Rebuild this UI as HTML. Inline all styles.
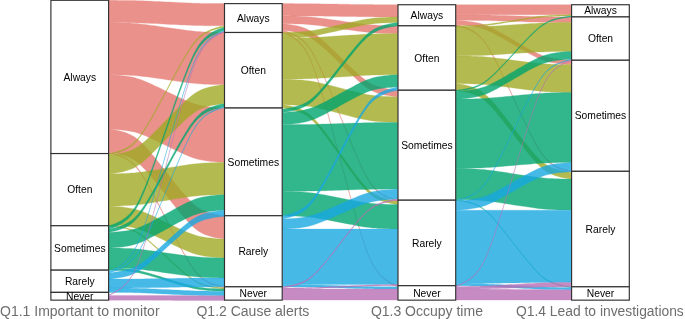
<!DOCTYPE html>
<html><head><meta charset="utf-8"><title>Alluvial</title>
<style>html,body{margin:0;padding:0;background:#fff}body{width:685px;height:319px;overflow:hidden}</style></head>
<body>
<svg width="685" height="319" viewBox="0 0 685 319" style="display:block">
<rect width="685" height="319" fill="#fff"/>
<g fill="#E5766F" stroke="#E5766F" stroke-width="0.3" opacity="1">
<path opacity="0.8" d="M108.7 0.3L108.7 0.3L109.3 0.3L110.6 0.3L112.7 0.3L115.5 0.3L118.7 0.4L122.1 0.4L125.4 0.4L128.5 0.5L131.5 0.5L134.3 0.6L137 0.7L139.7 0.7L142.4 0.8L145.4 1L148.5 1.1L151.7 1.2L155.2 1.4L158.9 1.6L162.7 1.8L166.6 2L170.4 2.1L174.2 2.3L177.9 2.5L181.4 2.7L184.7 2.8L187.8 2.9L190.7 3.1L193.5 3.2L196.2 3.3L198.9 3.3L201.7 3.4L204.6 3.4L207.7 3.5L211 3.5L214.4 3.6L217.7 3.6L220.5 3.6L222.6 3.6L223.9 3.6L224.4 3.6L224.5 3.6L224.5 25.8L224.4 25.8L223.9 25.8L222.6 25.8L220.5 25.8L217.7 25.8L214.4 25.8L211 25.7L207.7 25.7L204.6 25.7L201.7 25.6L198.9 25.5L196.2 25.5L193.5 25.4L190.7 25.3L187.8 25.2L184.7 25L181.4 24.9L177.9 24.7L174.2 24.5L170.4 24.4L166.6 24.2L162.7 24L158.9 23.8L155.2 23.6L151.7 23.5L148.5 23.3L145.4 23.2L142.4 23.1L139.7 23L137 22.9L134.3 22.8L131.5 22.7L128.5 22.7L125.4 22.6L122.1 22.6L118.7 22.6L115.5 22.5L112.7 22.5L110.6 22.5L109.3 22.5L108.7 22.5L108.7 22.5Z"/>
<path opacity="0.8" d="M108.7 22.5L108.7 22.5L109.3 22.5L110.6 22.5L112.7 22.6L115.5 22.6L118.7 22.7L122.1 22.8L125.4 22.9L128.5 23L131.5 23.2L134.3 23.4L137 23.6L139.7 23.9L142.4 24.2L145.4 24.5L148.5 24.9L151.7 25.4L155.2 25.8L158.9 26.4L162.7 26.9L166.6 27.5L170.4 28.1L174.2 28.6L177.9 29.1L181.4 29.6L184.7 30.1L187.8 30.5L190.7 30.8L193.5 31.1L196.2 31.4L198.9 31.6L201.7 31.8L204.6 32L207.7 32.1L211 32.2L214.4 32.3L217.7 32.4L220.5 32.4L222.6 32.5L223.9 32.5L224.4 32.5L224.5 32.5L224.5 84.7L224.4 84.7L223.9 84.7L222.6 84.7L220.5 84.6L217.7 84.6L214.4 84.5L211 84.4L207.7 84.3L204.6 84.2L201.7 84L198.9 83.8L196.2 83.6L193.5 83.3L190.7 83L187.8 82.7L184.7 82.3L181.4 81.8L177.9 81.3L174.2 80.8L170.4 80.3L166.6 79.7L162.7 79.1L158.9 78.6L155.2 78L151.7 77.6L148.5 77.1L145.4 76.7L142.4 76.4L139.7 76.1L137 75.8L134.3 75.6L131.5 75.4L128.5 75.2L125.4 75.1L122.1 75L118.7 74.9L115.5 74.8L112.7 74.8L110.6 74.7L109.3 74.7L108.7 74.7L108.7 74.7Z"/>
<path opacity="0.8" d="M108.7 74.7L108.7 74.7L109.3 74.7L110.6 74.8L112.7 74.9L115.5 75.1L118.7 75.3L122.1 75.7L125.4 76L128.5 76.5L131.5 77L134.3 77.6L137 78.4L139.7 79.2L142.4 80.3L145.4 81.4L148.5 82.7L151.7 84.2L155.2 85.9L158.9 87.6L162.7 89.5L166.6 91.4L170.4 93.3L174.2 95.1L177.9 96.9L181.4 98.5L184.7 100L187.8 101.3L190.7 102.5L193.5 103.5L196.2 104.3L198.9 105.1L201.7 105.7L204.6 106.2L207.7 106.7L211 107.1L214.4 107.4L217.7 107.6L220.5 107.8L222.6 107.9L223.9 108L224.4 108L224.5 108L224.5 162.4L224.4 162.4L223.9 162.4L222.6 162.3L220.5 162.2L217.7 162L214.4 161.8L211 161.5L207.7 161.1L204.6 160.6L201.7 160.1L198.9 159.5L196.2 158.8L193.5 157.9L190.7 156.9L187.8 155.7L184.7 154.4L181.4 152.9L177.9 151.3L174.2 149.5L170.4 147.7L166.6 145.8L162.7 143.9L158.9 142L155.2 140.3L151.7 138.7L148.5 137.2L145.4 135.8L142.4 134.7L139.7 133.7L137 132.8L134.3 132.1L131.5 131.4L128.5 130.9L125.4 130.5L122.1 130.1L118.7 129.8L115.5 129.5L112.7 129.3L110.6 129.2L109.3 129.1L108.7 129.1L108.7 129.1Z"/>
<path opacity="0.8" d="M108.7 129.1L108.7 129.1L109.3 129.2L110.6 129.3L112.7 129.6L115.5 130.1L118.7 130.8L122.1 131.6L125.4 132.6L128.5 133.8L131.5 135.2L134.3 136.8L137 138.7L139.7 140.9L142.4 143.6L145.4 146.6L148.5 150L151.7 153.9L155.2 158.1L158.9 162.7L162.7 167.5L166.6 172.4L170.4 177.4L174.2 182.2L177.9 186.7L181.4 191L184.7 194.8L187.8 198.3L190.7 201.3L193.5 203.9L196.2 206.2L198.9 208.1L201.7 209.7L204.6 211.1L207.7 212.3L211 213.3L214.4 214.1L217.7 214.7L220.5 215.2L222.6 215.5L223.9 215.7L224.4 215.7L224.5 215.7L224.5 239.1L224.4 239.1L223.9 239L222.6 238.8L220.5 238.5L217.7 238.1L214.4 237.4L211 236.6L207.7 235.6L204.6 234.4L201.7 233L198.9 231.4L196.2 229.5L193.5 227.3L190.7 224.6L187.8 221.6L184.7 218.1L181.4 214.3L177.9 210L174.2 205.5L170.4 200.7L166.6 195.8L162.7 190.8L158.9 186L155.2 181.5L151.7 177.2L148.5 173.4L145.4 169.9L142.4 166.9L139.7 164.2L137 162L134.3 160.1L131.5 158.5L128.5 157.1L125.4 155.9L122.1 154.9L118.7 154.1L115.5 153.4L112.7 153L110.6 152.7L109.3 152.5L108.7 152.4L108.7 152.4Z"/>
<path opacity="0.8" d="M108.7 152.4L108.7 152.5L109.3 152.5L110.6 152.8L112.7 153.3L115.5 154L118.7 155L122.1 156.3L125.4 157.8L128.5 159.7L131.5 161.8L134.3 164.3L137 167.3L139.7 170.7L142.4 174.8L145.4 179.5L148.5 184.9L151.7 190.9L155.2 197.5L158.9 204.6L162.7 212L166.6 219.6L170.4 227.3L174.2 234.7L177.9 241.8L181.4 248.4L184.7 254.4L187.8 259.7L190.7 264.4L193.5 268.5L196.2 272L198.9 275L201.7 277.5L204.6 279.6L207.7 281.4L211 283L214.4 284.2L217.7 285.3L220.5 286L222.6 286.5L223.9 286.7L224.4 286.8L224.5 286.8L224.5 287.9L224.4 287.9L223.9 287.8L222.6 287.6L220.5 287.1L217.7 286.4L214.4 285.4L211 284.1L207.7 282.5L204.6 280.7L201.7 278.6L198.9 276.1L196.2 273.1L193.5 269.6L190.7 265.5L187.8 260.8L184.7 255.5L181.4 249.5L177.9 242.9L174.2 235.8L170.4 228.4L166.6 220.7L162.7 213.1L158.9 205.7L155.2 198.6L151.7 192L148.5 186L145.4 180.7L142.4 175.9L139.7 171.9L137 168.4L134.3 165.4L131.5 162.9L128.5 160.8L125.4 159L122.1 157.4L118.7 156.1L115.5 155.1L112.7 154.4L110.6 153.9L109.3 153.7L108.7 153.6L108.7 153.6Z"/>
</g>
<g fill="#A1A924" stroke="#A1A924" stroke-width="0.3" opacity="1">
<path opacity="0.8" d="M108.7 153.6L108.7 153.5L109.3 153.5L110.6 153.2L112.7 152.8L115.5 152.1L118.7 151.1L122.1 149.9L125.4 148.4L128.5 146.7L131.5 144.7L134.3 142.3L137 139.5L139.7 136.2L142.4 132.3L145.4 127.8L148.5 122.7L151.7 117L155.2 110.8L158.9 104L162.7 96.9L166.6 89.7L170.4 82.4L174.2 75.4L177.9 68.6L181.4 62.4L184.7 56.7L187.8 51.6L190.7 47.1L193.5 43.2L196.2 39.9L198.9 37.1L201.7 34.7L204.6 32.7L207.7 31L211 29.5L214.4 28.3L217.7 27.3L220.5 26.6L222.6 26.2L223.9 25.9L224.4 25.8L224.5 25.8L224.5 27.3L224.4 27.3L223.9 27.4L222.6 27.6L220.5 28.1L217.7 28.8L214.4 29.7L211 30.9L207.7 32.4L204.6 34.1L201.7 36.2L198.9 38.6L196.2 41.4L193.5 44.7L190.7 48.6L187.8 53L184.7 58.1L181.4 63.8L177.9 70.1L174.2 76.8L170.4 83.9L166.6 91.1L162.7 98.4L158.9 105.5L155.2 112.2L151.7 118.5L148.5 124.1L145.4 129.2L142.4 133.7L139.7 137.6L137 140.9L134.3 143.7L131.5 146.1L128.5 148.1L125.4 149.9L122.1 151.3L118.7 152.5L115.5 153.5L112.7 154.2L110.6 154.7L109.3 154.9L108.7 155L108.7 155Z"/>
<path opacity="0.8" d="M108.7 155L108.7 155L109.3 154.9L110.6 154.8L112.7 154.6L115.5 154.2L118.7 153.6L122.1 153L125.4 152.2L128.5 151.2L131.5 150.1L134.3 148.8L137 147.2L139.7 145.4L142.4 143.3L145.4 140.8L148.5 138L151.7 134.9L155.2 131.4L158.9 127.7L162.7 123.8L166.6 119.8L170.4 115.8L174.2 112L177.9 108.3L181.4 104.8L184.7 101.7L187.8 98.9L190.7 96.4L193.5 94.3L196.2 92.4L198.9 90.9L201.7 89.6L204.6 88.5L207.7 87.5L211 86.7L214.4 86L217.7 85.5L220.5 85.1L222.6 84.9L223.9 84.7L224.4 84.7L224.5 84.7L224.5 103.6L224.4 103.6L223.9 103.6L222.6 103.8L220.5 104L217.7 104.4L214.4 104.9L211 105.6L207.7 106.4L204.6 107.4L201.7 108.5L198.9 109.8L196.2 111.3L193.5 113.2L190.7 115.3L187.8 117.8L184.7 120.6L181.4 123.7L177.9 127.1L174.2 130.8L170.4 134.7L166.6 138.7L162.7 142.7L158.9 146.6L155.2 150.3L151.7 153.8L148.5 156.9L145.4 159.7L142.4 162.2L139.7 164.3L137 166.1L134.3 167.7L131.5 169L128.5 170.1L125.4 171L122.1 171.9L118.7 172.5L115.5 173.1L112.7 173.4L110.6 173.7L109.3 173.8L108.7 173.9L108.7 173.9Z"/>
<path opacity="0.8" d="M108.7 173.9L108.7 173.9L109.3 173.9L110.6 173.8L112.7 173.8L115.5 173.7L118.7 173.7L122.1 173.5L125.4 173.4L128.5 173.3L131.5 173.1L134.3 172.9L137 172.6L139.7 172.3L142.4 172L145.4 171.6L148.5 171.1L151.7 170.6L155.2 170L158.9 169.4L162.7 168.8L166.6 168.2L170.4 167.5L174.2 166.9L177.9 166.3L181.4 165.7L184.7 165.2L187.8 164.7L190.7 164.3L193.5 164L196.2 163.7L198.9 163.4L201.7 163.2L204.6 163.1L207.7 162.9L211 162.8L214.4 162.7L217.7 162.6L220.5 162.5L222.6 162.5L223.9 162.4L224.4 162.4L224.5 162.4L224.5 194.6L224.4 194.6L223.9 194.7L222.6 194.7L220.5 194.7L217.7 194.8L214.4 194.9L211 195L207.7 195.1L204.6 195.3L201.7 195.4L198.9 195.7L196.2 195.9L193.5 196.2L190.7 196.5L187.8 197L184.7 197.4L181.4 197.9L177.9 198.5L174.2 199.1L170.4 199.7L166.6 200.4L162.7 201L158.9 201.6L155.2 202.2L151.7 202.8L148.5 203.3L145.4 203.8L142.4 204.2L139.7 204.5L137 204.8L134.3 205.1L131.5 205.3L128.5 205.5L125.4 205.6L122.1 205.8L118.7 205.9L115.5 205.9L112.7 206L110.6 206.1L109.3 206.1L108.7 206.1L108.7 206.1Z"/>
<path opacity="0.8" d="M108.7 206.1L108.7 206.1L109.3 206.1L110.6 206.2L112.7 206.3L115.5 206.5L118.7 206.7L122.1 207L125.4 207.4L128.5 207.9L131.5 208.4L134.3 209L137 209.7L139.7 210.6L142.4 211.6L145.4 212.7L148.5 214L151.7 215.5L155.2 217.1L158.9 218.9L162.7 220.7L166.6 222.6L170.4 224.4L174.2 226.3L177.9 228L181.4 229.6L184.7 231.1L187.8 232.4L190.7 233.6L193.5 234.6L196.2 235.4L198.9 236.2L201.7 236.8L204.6 237.3L207.7 237.7L211 238.1L214.4 238.4L217.7 238.7L220.5 238.9L222.6 239L223.9 239L224.4 239.1L224.5 239.1L224.5 257.9L224.4 257.9L223.9 257.9L222.6 257.9L220.5 257.7L217.7 257.6L214.4 257.3L211 257L207.7 256.6L204.6 256.2L201.7 255.6L198.9 255L196.2 254.3L193.5 253.5L190.7 252.4L187.8 251.3L184.7 250L181.4 248.5L177.9 246.9L174.2 245.2L170.4 243.3L166.6 241.5L162.7 239.6L158.9 237.8L155.2 236L151.7 234.4L148.5 232.9L145.4 231.6L142.4 230.5L139.7 229.5L137 228.6L134.3 227.9L131.5 227.3L128.5 226.7L125.4 226.3L122.1 225.9L118.7 225.6L115.5 225.3L112.7 225.2L110.6 225L109.3 225L108.7 225L108.7 225Z"/>
<path opacity="0.8" d="M108.7 225L108.7 225L109.3 225L110.6 225.1L112.7 225.3L115.5 225.7L118.7 226.2L122.1 226.8L125.4 227.5L128.5 228.4L131.5 229.4L134.3 230.5L137 231.9L139.7 233.5L142.4 235.5L145.4 237.7L148.5 240.2L151.7 243L155.2 246.1L158.9 249.4L162.7 252.9L166.6 256.4L170.4 260L174.2 263.5L177.9 266.8L181.4 269.9L184.7 272.7L187.8 275.2L190.7 277.4L193.5 279.4L196.2 281L198.9 282.4L201.7 283.5L204.6 284.5L207.7 285.4L211 286.1L214.4 286.7L217.7 287.2L220.5 287.5L222.6 287.8L223.9 287.9L224.4 287.9L224.5 287.9L224.5 289L224.4 289L223.9 289L222.6 288.9L220.5 288.7L217.7 288.3L214.4 287.8L211 287.2L207.7 286.5L204.6 285.7L201.7 284.7L198.9 283.5L196.2 282.1L193.5 280.5L190.7 278.5L187.8 276.3L184.7 273.8L181.4 271L177.9 267.9L174.2 264.6L170.4 261.1L166.6 257.6L162.7 254L158.9 250.5L155.2 247.2L151.7 244.1L148.5 241.3L145.4 238.8L142.4 236.6L139.7 234.7L137 233L134.3 231.6L131.5 230.5L128.5 229.5L125.4 228.6L122.1 227.9L118.7 227.3L115.5 226.8L112.7 226.5L110.6 226.2L109.3 226.1L108.7 226.1L108.7 226.1Z"/>
</g>
<g fill="#00A46F" stroke="#00A46F" stroke-width="0.3" opacity="1">
<path opacity="0.8" d="M108.7 225.7L108.7 225.7L109.3 225.6L110.6 225.2L112.7 224.5L115.5 223.4L118.7 221.9L122.1 220L125.4 217.8L128.5 215.1L131.5 211.9L134.3 208.2L137 203.9L139.7 198.7L142.4 192.7L145.4 185.7L148.5 177.8L151.7 169L155.2 159.2L158.9 148.8L162.7 137.8L166.6 126.5L170.4 115.2L174.2 104.2L177.9 93.8L181.4 84.1L184.7 75.2L187.8 67.3L190.7 60.4L193.5 54.3L196.2 49.2L198.9 44.8L201.7 41.1L204.6 38L207.7 35.3L211 33L214.4 31.1L217.7 29.6L220.5 28.5L222.6 27.8L223.9 27.4L224.4 27.3L224.5 27.3L224.5 30.6L224.4 30.6L223.9 30.8L222.6 31.1L220.5 31.8L217.7 32.9L214.4 34.4L211 36.3L207.7 38.6L204.6 41.3L201.7 44.4L198.9 48.1L196.2 52.5L193.5 57.6L190.7 63.7L187.8 70.6L184.7 78.5L181.4 87.4L177.9 97.1L174.2 107.6L170.4 118.6L166.6 129.8L162.7 141.1L158.9 152.1L155.2 162.6L151.7 172.3L148.5 181.1L145.4 189L142.4 196L139.7 202L137 207.2L134.3 211.5L131.5 215.2L128.5 218.4L125.4 221.1L122.1 223.4L118.7 225.3L115.5 226.8L112.7 227.9L110.6 228.6L109.3 228.9L108.7 229.1L108.7 229.1Z"/>
<path opacity="0.8" d="M108.7 229.1L108.7 229.1L109.3 229L110.6 228.7L112.7 228.3L115.5 227.6L118.7 226.7L122.1 225.5L125.4 224L128.5 222.3L131.5 220.3L134.3 218L137 215.2L139.7 212L142.4 208.2L145.4 203.8L148.5 198.8L151.7 193.2L155.2 187L158.9 180.4L162.7 173.5L166.6 166.3L170.4 159.2L174.2 152.2L177.9 145.6L181.4 139.5L184.7 133.9L187.8 128.9L190.7 124.5L193.5 120.7L196.2 117.4L198.9 114.7L201.7 112.3L204.6 110.3L207.7 108.6L211 107.2L214.4 106L217.7 105L220.5 104.3L222.6 103.9L223.9 103.7L224.4 103.6L224.5 103.6L224.5 106.9L224.4 106.9L223.9 107L222.6 107.2L220.5 107.7L217.7 108.4L214.4 109.3L211 110.5L207.7 112L204.6 113.7L201.7 115.7L198.9 118L196.2 120.7L193.5 124L190.7 127.8L187.8 132.2L184.7 137.2L181.4 142.8L177.9 149L174.2 155.6L170.4 162.5L166.6 169.7L162.7 176.8L158.9 183.7L155.2 190.4L151.7 196.5L148.5 202.1L145.4 207.1L142.4 211.5L139.7 215.3L137 218.6L134.3 221.3L131.5 223.7L128.5 225.7L125.4 227.4L122.1 228.8L118.7 230L115.5 230.9L112.7 231.6L110.6 232.1L109.3 232.3L108.7 232.4L108.7 232.4Z"/>
<path opacity="0.8" d="M108.7 232.4L108.7 232.4L109.3 232.4L110.6 232.3L112.7 232.2L115.5 232L118.7 231.7L122.1 231.3L125.4 230.9L128.5 230.4L131.5 229.8L134.3 229.1L137 228.2L139.7 227.3L142.4 226.1L145.4 224.8L148.5 223.3L151.7 221.6L155.2 219.8L158.9 217.8L162.7 215.7L166.6 213.5L170.4 211.4L174.2 209.3L177.9 207.3L181.4 205.4L184.7 203.8L187.8 202.3L190.7 200.9L193.5 199.8L196.2 198.8L198.9 198L201.7 197.3L204.6 196.7L207.7 196.2L211 195.7L214.4 195.4L217.7 195.1L220.5 194.9L222.6 194.7L223.9 194.7L224.4 194.6L224.5 194.6L224.5 210.2L224.4 210.2L223.9 210.2L222.6 210.3L220.5 210.4L217.7 210.6L214.4 210.9L211 211.3L207.7 211.7L204.6 212.2L201.7 212.8L198.9 213.5L196.2 214.4L193.5 215.3L190.7 216.5L187.8 217.8L184.7 219.3L181.4 221L177.9 222.8L174.2 224.8L170.4 226.9L166.6 229.1L162.7 231.2L158.9 233.3L155.2 235.3L151.7 237.1L148.5 238.8L145.4 240.3L142.4 241.7L139.7 242.8L137 243.8L134.3 244.6L131.5 245.3L128.5 245.9L125.4 246.4L122.1 246.9L118.7 247.2L115.5 247.5L112.7 247.7L110.6 247.9L109.3 247.9L108.7 247.9L108.7 248Z"/>
<path opacity="0.8" d="M108.7 248L108.7 248L109.3 248L110.6 248L112.7 248L115.5 248.1L118.7 248.1L122.1 248.2L125.4 248.4L128.5 248.5L131.5 248.6L134.3 248.8L137 249.1L139.7 249.3L142.4 249.6L145.4 250L148.5 250.4L151.7 250.8L155.2 251.3L158.9 251.8L162.7 252.4L166.6 252.9L170.4 253.5L174.2 254.1L177.9 254.6L181.4 255.1L184.7 255.5L187.8 255.9L190.7 256.3L193.5 256.6L196.2 256.8L198.9 257.1L201.7 257.3L204.6 257.4L207.7 257.5L211 257.7L214.4 257.8L217.7 257.8L220.5 257.9L222.6 257.9L223.9 257.9L224.4 257.9L224.5 257.9L224.5 277.9L224.4 277.9L223.9 277.9L222.6 277.9L220.5 277.9L217.7 277.8L214.4 277.7L211 277.7L207.7 277.5L204.6 277.4L201.7 277.2L198.9 277.1L196.2 276.8L193.5 276.6L190.7 276.3L187.8 275.9L184.7 275.5L181.4 275.1L177.9 274.6L174.2 274.1L170.4 273.5L166.6 272.9L162.7 272.4L158.9 271.8L155.2 271.3L151.7 270.8L148.5 270.4L145.4 270L142.4 269.6L139.7 269.3L137 269L134.3 268.8L131.5 268.6L128.5 268.5L125.4 268.3L122.1 268.2L118.7 268.1L115.5 268.1L112.7 268L110.6 268L109.3 268L108.7 267.9L108.7 267.9Z"/>
<path opacity="0.8" d="M108.7 267.9L108.7 267.9L109.3 268L110.6 268L112.7 268.1L115.5 268.2L118.7 268.3L122.1 268.5L125.4 268.8L128.5 269.1L131.5 269.4L134.3 269.8L137 270.3L139.7 270.8L142.4 271.5L145.4 272.2L148.5 273L151.7 274L155.2 275L158.9 276.1L162.7 277.3L166.6 278.5L170.4 279.7L174.2 280.9L177.9 282L181.4 283L184.7 283.9L187.8 284.8L190.7 285.5L193.5 286.2L196.2 286.7L198.9 287.2L201.7 287.6L204.6 287.9L207.7 288.2L211 288.4L214.4 288.6L217.7 288.8L220.5 288.9L222.6 289L223.9 289L224.4 289L224.5 289L224.5 291.3L224.4 291.3L223.9 291.2L222.6 291.2L220.5 291.1L217.7 291L214.4 290.9L211 290.7L207.7 290.4L204.6 290.1L201.7 289.8L198.9 289.4L196.2 288.9L193.5 288.4L190.7 287.7L187.8 287L184.7 286.2L181.4 285.2L177.9 284.2L174.2 283.1L170.4 281.9L166.6 280.7L162.7 279.5L158.9 278.3L155.2 277.2L151.7 276.2L148.5 275.3L145.4 274.4L142.4 273.7L139.7 273L137 272.5L134.3 272L131.5 271.6L128.5 271.3L125.4 271L122.1 270.8L118.7 270.6L115.5 270.4L112.7 270.3L110.6 270.2L109.3 270.2L108.7 270.2L108.7 270.2Z"/>
</g>
<g fill="#18A8E2" stroke="#18A8E2" stroke-width="0.3" opacity="1">
<path opacity="0.8" d="M108.7 271.3L108.7 271.3L109.3 271.1L110.6 270.6L112.7 269.8L115.5 268.5L118.7 266.7L122.1 264.4L125.4 261.6L128.5 258.3L131.5 254.5L134.3 250L137 244.7L139.7 238.5L142.4 231.2L145.4 222.7L148.5 213.1L151.7 202.4L155.2 190.6L158.9 177.9L162.7 164.6L166.6 150.9L170.4 137.3L174.2 123.9L177.9 111.3L181.4 99.5L184.7 88.7L187.8 79.2L190.7 70.7L193.5 63.4L196.2 57.1L198.9 51.9L201.7 47.4L204.6 43.6L207.7 40.3L211 37.5L214.4 35.2L217.7 33.4L220.5 32.1L222.6 31.2L223.9 30.8L224.4 30.6L224.5 30.6L224.5 31.4L224.4 31.4L223.9 31.6L222.6 32L220.5 32.9L217.7 34.2L214.4 36L211 38.3L207.7 41.1L204.6 44.3L201.7 48.2L198.9 52.6L196.2 57.9L193.5 64.2L190.7 71.5L187.8 79.9L184.7 89.5L181.4 100.2L177.9 112L174.2 124.7L170.4 138L166.6 151.7L162.7 165.4L158.9 178.7L155.2 191.4L151.7 203.2L148.5 213.9L145.4 223.5L142.4 231.9L139.7 239.3L137 245.5L134.3 250.8L131.5 255.3L128.5 259.1L125.4 262.4L122.1 265.1L118.7 267.4L115.5 269.3L112.7 270.6L110.6 271.4L109.3 271.9L108.7 272L108.7 272.1Z"/>
<path opacity="0.8" d="M108.7 272.1L108.7 272L109.3 271.9L110.6 271.6L112.7 271L115.5 270.1L118.7 268.9L122.1 267.3L125.4 265.4L128.5 263.2L131.5 260.5L134.3 257.5L137 253.8L139.7 249.6L142.4 244.5L145.4 238.7L148.5 232.2L151.7 224.8L155.2 216.7L158.9 208L162.7 198.9L166.6 189.5L170.4 180.1L174.2 170.9L177.9 162.2L181.4 154.2L184.7 146.8L187.8 140.2L190.7 134.4L193.5 129.4L196.2 125.1L198.9 121.5L201.7 118.4L204.6 115.8L207.7 113.6L211 111.6L214.4 110.1L217.7 108.8L220.5 107.9L222.6 107.3L223.9 107L224.4 106.9L224.5 106.9L224.5 107.7L224.4 107.7L223.9 107.8L222.6 108.1L220.5 108.7L217.7 109.6L214.4 110.8L211 112.4L207.7 114.3L204.6 116.6L201.7 119.2L198.9 122.3L196.2 125.9L193.5 130.2L190.7 135.2L187.8 141L184.7 147.6L181.4 154.9L177.9 163L174.2 171.7L170.4 180.9L166.6 190.3L162.7 199.6L158.9 208.8L155.2 217.5L151.7 225.6L148.5 232.9L145.4 239.5L142.4 245.3L139.7 250.3L137 254.6L134.3 258.2L131.5 261.3L128.5 263.9L125.4 266.2L122.1 268.1L118.7 269.7L115.5 270.9L112.7 271.8L110.6 272.4L109.3 272.7L108.7 272.8L108.7 272.8Z"/>
<path opacity="0.8" d="M108.7 272.8L108.7 272.8L109.3 272.8L110.6 272.7L112.7 272.4L115.5 272.1L118.7 271.6L122.1 271L125.4 270.3L128.5 269.5L131.5 268.5L134.3 267.3L137 265.9L139.7 264.3L142.4 262.4L145.4 260.2L148.5 257.7L151.7 254.9L155.2 251.8L158.9 248.5L162.7 245.1L166.6 241.5L170.4 238L174.2 234.5L177.9 231.2L181.4 228.1L184.7 225.3L187.8 222.8L190.7 220.6L193.5 218.7L196.2 217.1L198.9 215.7L201.7 214.6L204.6 213.6L207.7 212.7L211 212L214.4 211.4L217.7 210.9L220.5 210.6L222.6 210.4L223.9 210.2L224.4 210.2L224.5 210.2L224.5 216.4L224.4 216.4L223.9 216.5L222.6 216.6L220.5 216.8L217.7 217.1L214.4 217.6L211 218.2L207.7 218.9L204.6 219.8L201.7 220.8L198.9 221.9L196.2 223.3L193.5 224.9L190.7 226.9L187.8 229L184.7 231.5L181.4 234.3L177.9 237.4L174.2 240.7L170.4 244.2L166.6 247.7L162.7 251.3L158.9 254.8L155.2 258.1L151.7 261.1L148.5 263.9L145.4 266.4L142.4 268.6L139.7 270.5L137 272.1L134.3 273.5L131.5 274.7L128.5 275.7L125.4 276.5L122.1 277.2L118.7 277.8L115.5 278.3L112.7 278.7L110.6 278.9L109.3 279L108.7 279L108.7 279Z"/>
<path opacity="0.8" d="M108.7 279L108.7 279L109.3 279L110.6 279L112.7 279L115.5 279L118.7 279L122.1 279L125.4 279L128.5 279L131.5 279L134.3 279L137 278.9L139.7 278.9L142.4 278.9L145.4 278.8L148.5 278.8L151.7 278.7L155.2 278.7L158.9 278.6L162.7 278.6L166.6 278.5L170.4 278.4L174.2 278.4L177.9 278.3L181.4 278.3L184.7 278.2L187.8 278.2L190.7 278.1L193.5 278.1L196.2 278.1L198.9 278L201.7 278L204.6 278L207.7 278L211 278L214.4 278L217.7 278L220.5 277.9L222.6 277.9L223.9 277.9L224.4 277.9L224.5 277.9L224.5 286.8L224.4 286.8L223.9 286.8L222.6 286.8L220.5 286.8L217.7 286.8L214.4 286.8L211 286.9L207.7 286.9L204.6 286.9L201.7 286.9L198.9 286.9L196.2 286.9L193.5 287L190.7 287L187.8 287L184.7 287.1L181.4 287.1L177.9 287.2L174.2 287.3L170.4 287.3L166.6 287.4L162.7 287.4L158.9 287.5L155.2 287.6L151.7 287.6L148.5 287.7L145.4 287.7L142.4 287.7L139.7 287.8L137 287.8L134.3 287.8L131.5 287.9L128.5 287.9L125.4 287.9L122.1 287.9L118.7 287.9L115.5 287.9L112.7 287.9L110.6 287.9L109.3 287.9L108.7 287.9L108.7 287.9Z"/>
<path opacity="0.8" d="M108.7 287.9L108.7 287.9L109.3 287.9L110.6 287.9L112.7 288L115.5 288L118.7 288L122.1 288L125.4 288.1L128.5 288.1L131.5 288.2L134.3 288.2L137 288.3L139.7 288.4L142.4 288.5L145.4 288.6L148.5 288.7L151.7 288.9L155.2 289L158.9 289.2L162.7 289.4L166.6 289.6L170.4 289.8L174.2 290L177.9 290.1L181.4 290.3L184.7 290.5L187.8 290.6L190.7 290.7L193.5 290.8L196.2 290.9L198.9 291L201.7 291L204.6 291.1L207.7 291.1L211 291.2L214.4 291.2L217.7 291.2L220.5 291.2L222.6 291.3L223.9 291.3L224.4 291.3L224.5 291.3L224.5 295.7L224.4 295.7L223.9 295.7L222.6 295.7L220.5 295.7L217.7 295.7L214.4 295.6L211 295.6L207.7 295.6L204.6 295.5L201.7 295.5L198.9 295.4L196.2 295.3L193.5 295.3L190.7 295.2L187.8 295L184.7 294.9L181.4 294.8L177.9 294.6L174.2 294.4L170.4 294.2L166.6 294L162.7 293.9L158.9 293.7L155.2 293.5L151.7 293.3L148.5 293.2L145.4 293L142.4 292.9L139.7 292.8L137 292.7L134.3 292.7L131.5 292.6L128.5 292.6L125.4 292.5L122.1 292.5L118.7 292.4L115.5 292.4L112.7 292.4L110.6 292.4L109.3 292.4L108.7 292.4L108.7 292.4Z"/>
</g>
<g fill="#B86FB5" stroke="#B86FB5" stroke-width="0.3" opacity="1">
<path opacity="0.8" d="M108.7 294.6L108.7 294.6L109.3 294.4L110.6 293.9L112.7 293L115.5 291.5L118.7 289.6L122.1 287L125.4 284L128.5 280.4L131.5 276.3L134.3 271.4L137 265.6L139.7 258.7L142.4 250.7L145.4 241.5L148.5 231L151.7 219.3L155.2 206.4L158.9 192.5L162.7 177.9L166.6 163L170.4 148L174.2 133.5L177.9 119.6L181.4 106.7L184.7 95L187.8 84.5L190.7 75.3L193.5 67.2L196.2 60.4L198.9 54.6L201.7 49.7L204.6 45.5L207.7 42L211 38.9L214.4 36.4L217.7 34.4L220.5 33L222.6 32.1L223.9 31.6L224.4 31.4L224.5 31.4L224.5 32.2L224.4 32.2L223.9 32.4L222.6 32.8L220.5 33.8L217.7 35.2L214.4 37.2L211 39.7L207.7 42.8L204.6 46.3L201.7 50.5L198.9 55.4L196.2 61.2L193.5 68L190.7 76L187.8 85.3L184.7 95.7L181.4 107.5L177.9 120.4L174.2 134.2L170.4 148.8L166.6 163.8L162.7 178.7L158.9 193.3L155.2 207.2L151.7 220.1L148.5 231.8L145.4 242.3L142.4 251.5L139.7 259.5L137 266.3L134.3 272.1L131.5 277L128.5 281.2L125.4 284.8L122.1 287.8L118.7 290.3L115.5 292.3L112.7 293.8L110.6 294.7L109.3 295.2L108.7 295.3L108.7 295.4Z"/>
<path opacity="0.8" d="M108.7 295.4L108.7 295.4L109.3 295.4L110.6 295.4L112.7 295.4L115.5 295.4L118.7 295.4L122.1 295.4L125.4 295.4L128.5 295.4L131.5 295.4L134.3 295.4L137 295.4L139.7 295.4L142.4 295.4L145.4 295.4L148.5 295.5L151.7 295.5L155.2 295.5L158.9 295.5L162.7 295.5L166.6 295.5L170.4 295.6L174.2 295.6L177.9 295.6L181.4 295.6L184.7 295.6L187.8 295.6L190.7 295.7L193.5 295.7L196.2 295.7L198.9 295.7L201.7 295.7L204.6 295.7L207.7 295.7L211 295.7L214.4 295.7L217.7 295.7L220.5 295.7L222.6 295.7L223.9 295.7L224.4 295.7L224.5 295.7L224.5 300.5L224.4 300.5L223.9 300.5L222.6 300.5L220.5 300.5L217.7 300.5L214.4 300.5L211 300.5L207.7 300.5L204.6 300.5L201.7 300.5L198.9 300.5L196.2 300.4L193.5 300.4L190.7 300.4L187.8 300.4L184.7 300.4L181.4 300.4L177.9 300.4L174.2 300.4L170.4 300.3L166.6 300.3L162.7 300.3L158.9 300.3L155.2 300.3L151.7 300.2L148.5 300.2L145.4 300.2L142.4 300.2L139.7 300.2L137 300.2L134.3 300.2L131.5 300.2L128.5 300.2L125.4 300.2L122.1 300.2L118.7 300.2L115.5 300.2L112.7 300.2L110.6 300.2L109.3 300.2L108.7 300.2L108.7 300.1Z"/>
</g>
<g fill="#E5766F" stroke="#E5766F" stroke-width="0.3" opacity="1">
<path opacity="0.8" d="M282.2 3.6L282.3 3.6L282.8 3.6L284.1 3.6L286.2 3.6L289 3.6L292.3 3.6L295.7 3.7L299 3.7L302.1 3.7L305 3.7L307.8 3.7L310.5 3.7L313.2 3.8L316 3.8L318.9 3.8L322 3.9L325.3 3.9L328.8 4L332.5 4.1L336.3 4.1L340.1 4.2L344 4.2L347.8 4.3L351.5 4.4L355 4.4L358.2 4.5L361.3 4.5L364.3 4.5L367 4.6L369.7 4.6L372.4 4.6L375.2 4.7L378.2 4.7L381.3 4.7L384.6 4.7L388 4.7L391.2 4.7L394 4.7L396.1 4.7L397.4 4.7L398 4.7L398 4.7L398 16.9L398 16.9L397.4 16.9L396.1 16.9L394 16.9L391.2 16.9L388 16.9L384.6 16.9L381.3 16.9L378.2 16.9L375.2 16.9L372.4 16.8L369.7 16.8L367 16.8L364.3 16.8L361.3 16.7L358.2 16.7L355 16.6L351.5 16.6L347.8 16.5L344 16.5L340.1 16.4L336.3 16.3L332.5 16.3L328.8 16.2L325.3 16.2L322 16.1L318.9 16.1L316 16L313.2 16L310.5 16L307.8 15.9L305 15.9L302.1 15.9L299 15.9L295.7 15.9L292.3 15.9L289 15.8L286.2 15.8L284.1 15.8L282.8 15.8L282.3 15.8L282.2 15.8Z"/>
<path opacity="0.8" d="M282.2 15.8L282.3 15.8L282.8 15.8L284.1 15.9L286.2 15.9L289 16L292.3 16L295.7 16.1L299 16.2L302.1 16.4L305 16.5L307.8 16.7L310.5 16.9L313.2 17.2L316 17.5L318.9 17.9L322 18.3L325.3 18.7L328.8 19.2L332.5 19.7L336.3 20.3L340.1 20.8L344 21.4L347.8 22L351.5 22.5L355 23L358.2 23.4L361.3 23.8L364.3 24.2L367 24.5L369.7 24.7L372.4 24.9L375.2 25.1L378.2 25.3L381.3 25.4L384.6 25.5L388 25.6L391.2 25.7L394 25.8L396.1 25.8L397.4 25.8L398 25.8L398 25.8L398 33.6L398 33.6L397.4 33.6L396.1 33.6L394 33.5L391.2 33.5L388 33.4L384.6 33.3L381.3 33.2L378.2 33.1L375.2 32.9L372.4 32.7L369.7 32.5L367 32.2L364.3 31.9L361.3 31.6L358.2 31.2L355 30.7L351.5 30.3L347.8 29.7L344 29.2L340.1 28.6L336.3 28L332.5 27.5L328.8 27L325.3 26.5L322 26L318.9 25.6L316 25.3L313.2 25L310.5 24.7L307.8 24.5L305 24.3L302.1 24.1L299 24L295.7 23.9L292.3 23.8L289 23.7L286.2 23.7L284.1 23.6L282.8 23.6L282.3 23.6L282.2 23.6Z"/>
<path opacity="0.8" d="M282.2 23.6L282.3 23.6L282.8 23.7L284.1 23.8L286.2 24L289 24.4L292.3 24.9L295.7 25.5L299 26.3L302.1 27.2L305 28.3L307.8 29.5L310.5 31L313.2 32.7L316 34.7L318.9 37.1L322 39.7L325.3 42.7L328.8 45.9L332.5 49.5L336.3 53.1L340.1 56.9L344 60.7L347.8 64.4L351.5 67.9L355 71.2L358.2 74.2L361.3 76.8L364.3 79.1L367 81.2L369.7 82.9L372.4 84.4L375.2 85.6L378.2 86.7L381.3 87.6L384.6 88.3L388 89L391.2 89.5L394 89.8L396.1 90.1L397.4 90.2L398 90.2L398 90.2L398 96.9L398 96.9L397.4 96.9L396.1 96.7L394 96.5L391.2 96.1L388 95.6L384.6 95L381.3 94.2L378.2 93.3L375.2 92.3L372.4 91L369.7 89.6L367 87.8L364.3 85.8L361.3 83.5L358.2 80.8L355 77.8L351.5 74.6L347.8 71.1L344 67.4L340.1 63.6L336.3 59.8L332.5 56.1L328.8 52.6L325.3 49.3L322 46.4L318.9 43.7L316 41.4L313.2 39.4L310.5 37.6L307.8 36.2L305 34.9L302.1 33.9L299 33L295.7 32.2L292.3 31.6L289 31L286.2 30.7L284.1 30.4L282.8 30.3L282.3 30.3L282.2 30.3Z"/>
<path opacity="0.8" d="M282.2 30.3L282.3 30.3L282.8 30.4L284.1 30.7L286.2 31.3L289 32.2L292.3 33.5L295.7 35.2L299 37.1L302.1 39.4L305 42.1L307.8 45.3L310.5 49L313.2 53.4L316 58.6L318.9 64.6L322 71.3L325.3 78.9L328.8 87.2L332.5 96.2L336.3 105.6L340.1 115.2L344 124.9L347.8 134.3L351.5 143.3L355 151.6L358.2 159.2L361.3 165.9L364.3 171.9L367 177L369.7 181.5L372.4 185.2L375.2 188.4L378.2 191.1L381.3 193.4L384.6 195.3L388 196.9L391.2 198.2L394 199.2L396.1 199.8L397.4 200.1L398 200.2L398 200.2L398 201.3L398 201.3L397.4 201.2L396.1 200.9L394 200.3L391.2 199.3L388 198.1L384.6 196.4L381.3 194.5L378.2 192.2L375.2 189.5L372.4 186.3L369.7 182.6L367 178.2L364.3 173L361.3 167L358.2 160.3L355 152.7L351.5 144.4L347.8 135.4L344 126L340.1 116.3L336.3 106.7L332.5 97.3L328.8 88.3L325.3 80L322 72.4L318.9 65.7L316 59.7L313.2 54.5L310.5 50.1L307.8 46.4L305 43.2L302.1 40.5L299 38.2L295.7 36.3L292.3 34.6L289 33.4L286.2 32.4L284.1 31.8L282.8 31.5L282.3 31.4L282.2 31.4Z"/>
<path opacity="0.8" d="M282.2 31.4L282.3 31.4L282.8 31.6L284.1 32L286.2 32.9L289 34.3L292.3 36.3L295.7 38.7L299 41.6L302.1 45.1L305 49.1L307.8 53.8L310.5 59.4L313.2 66L316 73.8L318.9 82.7L322 92.8L325.3 104.2L328.8 116.6L332.5 130L336.3 144.1L340.1 158.5L344 173L347.8 187.1L351.5 200.5L355 212.9L358.2 224.3L361.3 234.4L364.3 243.3L367 251.1L369.7 257.7L372.4 263.3L375.2 268L378.2 272L381.3 275.5L384.6 278.4L388 280.8L391.2 282.8L394 284.2L396.1 285L397.4 285.5L398 285.7L398 285.7L398 286.8L398 286.8L397.4 286.6L396.1 286.2L394 285.3L391.2 283.9L388 281.9L384.6 279.5L381.3 276.6L378.2 273.1L375.2 269.1L372.4 264.4L369.7 258.8L367 252.2L364.3 244.4L361.3 235.5L358.2 225.4L355 214.1L351.5 201.6L347.8 188.2L344 174.1L340.1 159.7L336.3 145.2L332.5 131.1L328.8 117.7L325.3 105.3L322 93.9L318.9 83.8L316 74.9L313.2 67.1L310.5 60.5L307.8 55L305 50.2L302.1 46.2L299 42.7L295.7 39.8L292.3 37.4L289 35.4L286.2 34.1L284.1 33.2L282.8 32.7L282.3 32.5L282.2 32.5Z"/>
</g>
<g fill="#A1A924" stroke="#A1A924" stroke-width="0.3" opacity="1">
<path opacity="0.8" d="M282.2 32.5L282.3 32.5L282.8 32.5L284.1 32.5L286.2 32.4L289 32.3L292.3 32.2L295.7 32L299 31.9L302.1 31.7L305 31.4L307.8 31.1L310.5 30.8L313.2 30.4L316 29.9L318.9 29.4L322 28.7L325.3 28L328.8 27.3L332.5 26.5L336.3 25.6L340.1 24.7L344 23.8L347.8 23L351.5 22.2L355 21.4L358.2 20.7L361.3 20.1L364.3 19.5L367 19.1L369.7 18.7L372.4 18.3L375.2 18L378.2 17.8L381.3 17.6L384.6 17.4L388 17.2L391.2 17.1L394 17L396.1 17L397.4 17L398 16.9L398 16.9L398 22.5L398 22.5L397.4 22.5L396.1 22.5L394 22.6L391.2 22.7L388 22.8L384.6 22.9L381.3 23.1L378.2 23.3L375.2 23.6L372.4 23.9L369.7 24.2L367 24.6L364.3 25.1L361.3 25.6L358.2 26.3L355 26.9L351.5 27.7L347.8 28.5L344 29.4L340.1 30.3L336.3 31.2L332.5 32L328.8 32.8L325.3 33.6L322 34.3L318.9 34.9L316 35.5L313.2 35.9L310.5 36.3L307.8 36.7L305 37L302.1 37.2L299 37.4L295.7 37.6L292.3 37.8L289 37.9L286.2 38L284.1 38L282.8 38L282.3 38L282.2 38Z"/>
<path opacity="0.8" d="M282.2 38L282.3 38L282.8 38L284.1 38L286.2 38L289 38L292.3 38L295.7 37.9L299 37.9L302.1 37.8L305 37.7L307.8 37.7L310.5 37.6L313.2 37.4L316 37.3L318.9 37.2L322 37L325.3 36.8L328.8 36.6L332.5 36.3L336.3 36.1L340.1 35.8L344 35.6L347.8 35.3L351.5 35.1L355 34.9L358.2 34.7L361.3 34.5L364.3 34.3L367 34.2L369.7 34.1L372.4 34L375.2 33.9L378.2 33.8L381.3 33.8L384.6 33.7L388 33.7L391.2 33.7L394 33.6L396.1 33.6L397.4 33.6L398 33.6L398 33.6L398 74.7L398 74.7L397.4 74.7L396.1 74.7L394 74.7L391.2 74.7L388 74.8L384.6 74.8L381.3 74.9L378.2 74.9L375.2 75L372.4 75.1L369.7 75.2L367 75.3L364.3 75.4L361.3 75.6L358.2 75.8L355 76L351.5 76.2L347.8 76.4L344 76.7L340.1 76.9L336.3 77.2L332.5 77.4L328.8 77.7L325.3 77.9L322 78.1L318.9 78.2L316 78.4L313.2 78.5L310.5 78.7L307.8 78.7L305 78.8L302.1 78.9L299 79L295.7 79L292.3 79.1L289 79.1L286.2 79.1L284.1 79.1L282.8 79.1L282.3 79.1L282.2 79.1Z"/>
<path opacity="0.8" d="M282.2 79.1L282.3 79.1L282.8 79.2L284.1 79.2L286.2 79.2L289 79.3L292.3 79.5L295.7 79.7L299 79.9L302.1 80.1L305 80.4L307.8 80.7L310.5 81.1L313.2 81.6L316 82.1L318.9 82.7L322 83.4L325.3 84.2L328.8 85.1L332.5 86L336.3 87L340.1 88L344 89L347.8 90L351.5 91L355 91.8L358.2 92.6L361.3 93.3L364.3 93.9L367 94.5L369.7 95L372.4 95.3L375.2 95.7L378.2 96L381.3 96.2L384.6 96.4L388 96.6L391.2 96.7L394 96.8L396.1 96.9L397.4 96.9L398 96.9L398 96.9L398 122.5L398 122.5L397.4 122.4L396.1 122.4L394 122.3L391.2 122.2L388 122.1L384.6 121.9L381.3 121.7L378.2 121.5L375.2 121.2L372.4 120.9L369.7 120.5L367 120L364.3 119.5L361.3 118.9L358.2 118.2L355 117.4L351.5 116.5L347.8 115.6L344 114.6L340.1 113.6L336.3 112.6L332.5 111.6L328.8 110.6L325.3 109.8L322 109L318.9 108.3L316 107.6L313.2 107.1L310.5 106.6L307.8 106.3L305 105.9L302.1 105.6L299 105.4L295.7 105.2L292.3 105L289 104.9L286.2 104.8L284.1 104.7L282.8 104.7L282.3 104.7L282.2 104.7Z"/>
<path opacity="0.8" d="M282.2 104.7L282.3 104.7L282.8 104.8L284.1 104.9L286.2 105.3L289 105.8L292.3 106.5L295.7 107.5L299 108.6L302.1 109.9L305 111.4L307.8 113.2L310.5 115.3L313.2 117.8L316 120.8L318.9 124.2L322 128L325.3 132.3L328.8 137.1L332.5 142.2L336.3 147.5L340.1 153L344 158.5L347.8 163.8L351.5 168.9L355 173.7L358.2 178L361.3 181.8L364.3 185.2L367 188.1L369.7 190.7L372.4 192.8L375.2 194.6L378.2 196.1L381.3 197.4L384.6 198.5L388 199.5L391.2 200.2L394 200.7L396.1 201.1L397.4 201.2L398 201.3L398 201.3L398 204.6L398 204.6L397.4 204.6L396.1 204.4L394 204L391.2 203.5L388 202.8L384.6 201.9L381.3 200.8L378.2 199.4L375.2 197.9L372.4 196.1L369.7 194L367 191.5L364.3 188.5L361.3 185.1L358.2 181.3L355 177L351.5 172.3L347.8 167.2L344 161.8L340.1 156.3L336.3 150.8L332.5 145.5L328.8 140.4L325.3 135.7L322 131.4L318.9 127.5L316 124.1L313.2 121.2L310.5 118.7L307.8 116.5L305 114.7L302.1 113.2L299 111.9L295.7 110.8L292.3 109.9L289 109.1L286.2 108.6L284.1 108.3L282.8 108.1L282.3 108L282.2 108Z"/>
</g>
<g fill="#00A46F" stroke="#00A46F" stroke-width="0.3" opacity="1">
<path opacity="0.8" d="M282.2 109.1L282.3 109.1L282.8 109.1L284.1 108.9L286.2 108.6L289 108.1L292.3 107.5L295.7 106.6L299 105.6L302.1 104.5L305 103.1L307.8 101.5L310.5 99.6L313.2 97.3L316 94.7L318.9 91.7L322 88.2L325.3 84.3L328.8 80.1L332.5 75.5L336.3 70.7L340.1 65.8L344 60.9L347.8 56.1L351.5 51.5L355 47.3L358.2 43.4L361.3 40L364.3 36.9L367 34.3L369.7 32.1L372.4 30.2L375.2 28.5L378.2 27.2L381.3 26L384.6 25L388 24.2L391.2 23.5L394 23L396.1 22.7L397.4 22.6L398 22.5L398 22.5L398 25.8L398 25.8L397.4 25.9L396.1 26.1L394 26.4L391.2 26.8L388 27.5L384.6 28.3L381.3 29.3L378.2 30.5L375.2 31.9L372.4 33.5L369.7 35.4L367 37.6L364.3 40.3L361.3 43.3L358.2 46.8L355 50.6L351.5 54.9L347.8 59.4L344 64.2L340.1 69.1L336.3 74.1L332.5 78.9L328.8 83.4L325.3 87.7L322 91.5L318.9 95L316 98L313.2 100.7L310.5 102.9L307.8 104.8L305 106.4L302.1 107.8L299 109L295.7 110L292.3 110.8L289 111.5L286.2 111.9L284.1 112.2L282.8 112.4L282.3 112.5L282.2 112.5Z"/>
<path opacity="0.8" d="M282.2 112.5L282.3 112.5L282.8 112.4L284.1 112.4L286.2 112.2L289 112L292.3 111.7L295.7 111.4L299 110.9L302.1 110.4L305 109.8L307.8 109.1L310.5 108.3L313.2 107.3L316 106.2L318.9 104.8L322 103.3L325.3 101.7L328.8 99.8L332.5 97.8L336.3 95.7L340.1 93.6L344 91.4L347.8 89.3L351.5 87.4L355 85.5L358.2 83.8L361.3 82.3L364.3 81L367 79.8L369.7 78.9L372.4 78L375.2 77.3L378.2 76.7L381.3 76.2L384.6 75.8L388 75.4L391.2 75.1L394 74.9L396.1 74.8L397.4 74.7L398 74.7L398 74.7L398 86.9L398 86.9L397.4 86.9L396.1 87L394 87.1L391.2 87.4L388 87.6L384.6 88L381.3 88.4L378.2 88.9L375.2 89.5L372.4 90.2L369.7 91.1L367 92.1L364.3 93.2L361.3 94.5L358.2 96L355 97.7L351.5 99.6L347.8 101.6L344 103.6L340.1 105.8L336.3 107.9L332.5 110L328.8 112L325.3 113.9L322 115.6L318.9 117.1L316 118.4L313.2 119.5L310.5 120.5L307.8 121.3L305 122L302.1 122.6L299 123.2L295.7 123.6L292.3 124L289 124.2L286.2 124.4L284.1 124.6L282.8 124.6L282.3 124.7L282.2 124.7Z"/>
<path opacity="0.8" d="M282.2 124.7L282.3 124.7L282.8 124.7L284.1 124.7L286.2 124.7L289 124.6L292.3 124.6L295.7 124.6L299 124.6L302.1 124.6L305 124.5L307.8 124.5L310.5 124.4L313.2 124.4L316 124.3L318.9 124.2L322 124.1L325.3 124L328.8 123.9L332.5 123.8L336.3 123.7L340.1 123.6L344 123.4L347.8 123.3L351.5 123.2L355 123.1L358.2 123L361.3 122.9L364.3 122.8L367 122.8L369.7 122.7L372.4 122.7L375.2 122.6L378.2 122.6L381.3 122.5L384.6 122.5L388 122.5L391.2 122.5L394 122.5L396.1 122.5L397.4 122.5L398 122.5L398 122.5L398 189.1L398 189.1L397.4 189.1L396.1 189.1L394 189.1L391.2 189.1L388 189.1L384.6 189.2L381.3 189.2L378.2 189.2L375.2 189.2L372.4 189.3L369.7 189.3L367 189.4L364.3 189.5L361.3 189.5L358.2 189.6L355 189.7L351.5 189.8L347.8 190L344 190.1L340.1 190.2L336.3 190.3L332.5 190.4L328.8 190.6L325.3 190.7L322 190.8L318.9 190.9L316 190.9L313.2 191L310.5 191.1L307.8 191.1L305 191.2L302.1 191.2L299 191.2L295.7 191.2L292.3 191.3L289 191.3L286.2 191.3L284.1 191.3L282.8 191.3L282.3 191.3L282.2 191.3Z"/>
<path opacity="0.8" d="M282.2 191.3L282.3 191.3L282.8 191.3L284.1 191.3L286.2 191.4L289 191.5L292.3 191.6L295.7 191.7L299 191.8L302.1 192L305 192.2L307.8 192.5L310.5 192.8L313.2 193.1L316 193.5L318.9 194L322 194.5L325.3 195.1L328.8 195.8L332.5 196.5L336.3 197.2L340.1 198L344 198.7L347.8 199.5L351.5 200.2L355 200.8L358.2 201.4L361.3 201.9L364.3 202.4L367 202.8L369.7 203.2L372.4 203.5L375.2 203.7L378.2 203.9L381.3 204.1L384.6 204.3L388 204.4L391.2 204.5L394 204.6L396.1 204.6L397.4 204.6L398 204.6L398 204.6L398 229.1L398 229.1L397.4 229.1L396.1 229L394 229L391.2 228.9L388 228.8L384.6 228.7L381.3 228.5L378.2 228.4L375.2 228.1L372.4 227.9L369.7 227.6L367 227.3L364.3 226.9L361.3 226.4L358.2 225.9L355 225.3L351.5 224.6L347.8 223.9L344 223.2L340.1 222.4L336.3 221.7L332.5 220.9L328.8 220.2L325.3 219.6L322 219L318.9 218.4L316 218L313.2 217.6L310.5 217.2L307.8 216.9L305 216.7L302.1 216.5L299 216.3L295.7 216.1L292.3 216L289 215.9L286.2 215.8L284.1 215.8L282.8 215.8L282.3 215.7L282.2 215.7Z"/>
</g>
<g fill="#18A8E2" stroke="#18A8E2" stroke-width="0.3" opacity="1">
<path opacity="0.8" d="M282.2 215.7L282.3 215.7L282.8 215.6L284.1 215.4L286.2 215L289 214.2L292.3 213.3L295.7 212L299 210.6L302.1 208.8L305 206.8L307.8 204.4L310.5 201.5L313.2 198.2L316 194.3L318.9 189.8L322 184.6L325.3 178.9L328.8 172.6L332.5 165.8L336.3 158.7L340.1 151.3L344 144L347.8 136.9L351.5 130.1L355 123.8L358.2 118L361.3 112.9L364.3 108.4L367 104.5L369.7 101.1L372.4 98.3L375.2 95.9L378.2 93.8L381.3 92.1L384.6 90.6L388 89.4L391.2 88.4L394 87.7L396.1 87.3L397.4 87L398 86.9L398 86.9L398 90.2L398 90.3L397.4 90.3L396.1 90.6L394 91L391.2 91.7L388 92.7L384.6 93.9L381.3 95.4L378.2 97.2L375.2 99.2L372.4 101.6L369.7 104.5L367 107.8L364.3 111.7L361.3 116.2L358.2 121.4L355 127.1L351.5 133.4L347.8 140.2L344 147.3L340.1 154.7L336.3 162L332.5 169.1L328.8 175.9L325.3 182.2L322 188L318.9 193.1L316 197.6L313.2 201.5L310.5 204.9L307.8 207.7L305 210.1L302.1 212.1L299 213.9L295.7 215.4L292.3 216.6L289 217.6L286.2 218.3L284.1 218.7L282.8 219L282.3 219.1L282.2 219.1Z"/>
<path opacity="0.8" d="M282.2 219.1L282.3 219.1L282.8 219.1L284.1 219L286.2 218.9L289 218.7L292.3 218.5L295.7 218.2L299 217.9L302.1 217.5L305 217L307.8 216.4L310.5 215.8L313.2 215L316 214.1L318.9 213L322 211.8L325.3 210.5L328.8 209L332.5 207.4L336.3 205.8L340.1 204.1L344 202.4L347.8 200.7L351.5 199.1L355 197.7L358.2 196.3L361.3 195.1L364.3 194.1L367 193.2L369.7 192.4L372.4 191.7L375.2 191.2L378.2 190.7L381.3 190.3L384.6 190L388 189.7L391.2 189.4L394 189.3L396.1 189.2L397.4 189.1L398 189.1L398 189.1L398 199.1L398 199.1L397.4 199.1L396.1 199.2L394 199.3L391.2 199.4L388 199.7L384.6 199.9L381.3 200.3L378.2 200.7L375.2 201.2L372.4 201.7L369.7 202.4L367 203.2L364.3 204.1L361.3 205.1L358.2 206.3L355 207.7L351.5 209.1L347.8 210.7L344 212.4L340.1 214.1L336.3 215.8L332.5 217.4L328.8 219L325.3 220.5L322 221.8L318.9 223L316 224.1L313.2 225L310.5 225.8L307.8 226.4L305 227L302.1 227.5L299 227.9L295.7 228.2L292.3 228.5L289 228.7L286.2 228.9L284.1 229L282.8 229L282.3 229.1L282.2 229.1Z"/>
<path opacity="0.8" d="M282.2 229.1L282.3 229.1L282.8 229.1L284.1 229.1L286.2 229.1L289 229.1L292.3 229.1L295.7 229.1L299 229.1L302.1 229.1L305 229.1L307.8 229.1L310.5 229.1L313.2 229.1L316 229.1L318.9 229.1L322 229.1L325.3 229.1L328.8 229.1L332.5 229.1L336.3 229.1L340.1 229.1L344 229.1L347.8 229.1L351.5 229.1L355 229.1L358.2 229.1L361.3 229.1L364.3 229.1L367 229.1L369.7 229.1L372.4 229.1L375.2 229.1L378.2 229.1L381.3 229.1L384.6 229.1L388 229.1L391.2 229.1L394 229.1L396.1 229.1L397.4 229.1L398 229.1L398 229.1L398 284.6L398 284.6L397.4 284.6L396.1 284.6L394 284.6L391.2 284.6L388 284.6L384.6 284.6L381.3 284.6L378.2 284.6L375.2 284.6L372.4 284.6L369.7 284.6L367 284.6L364.3 284.6L361.3 284.6L358.2 284.6L355 284.6L351.5 284.6L347.8 284.6L344 284.6L340.1 284.6L336.3 284.6L332.5 284.6L328.8 284.6L325.3 284.6L322 284.6L318.9 284.6L316 284.6L313.2 284.6L310.5 284.6L307.8 284.6L305 284.6L302.1 284.6L299 284.6L295.7 284.6L292.3 284.6L289 284.6L286.2 284.6L284.1 284.6L282.8 284.6L282.3 284.6L282.2 284.6Z"/>
<path opacity="0.8" d="M282.2 284.6L282.3 284.6L282.8 284.6L284.1 284.6L286.2 284.6L289 284.6L292.3 284.6L295.7 284.7L299 284.7L302.1 284.7L305 284.8L307.8 284.8L310.5 284.8L313.2 284.9L316 285L318.9 285L322 285.1L325.3 285.2L328.8 285.3L332.5 285.5L336.3 285.6L340.1 285.7L344 285.8L347.8 286L351.5 286.1L355 286.2L358.2 286.3L361.3 286.4L364.3 286.5L367 286.5L369.7 286.6L372.4 286.6L375.2 286.7L378.2 286.7L381.3 286.7L384.6 286.8L388 286.8L391.2 286.8L394 286.8L396.1 286.8L397.4 286.8L398 286.8L398 286.8L398 289L398 289L397.4 289L396.1 289L394 289L391.2 289L388 289L384.6 289L381.3 289L378.2 288.9L375.2 288.9L372.4 288.8L369.7 288.8L367 288.7L364.3 288.7L361.3 288.6L358.2 288.5L355 288.4L351.5 288.3L347.8 288.2L344 288.1L340.1 287.9L336.3 287.8L332.5 287.7L328.8 287.6L325.3 287.5L322 287.4L318.9 287.3L316 287.2L313.2 287.1L310.5 287.1L307.8 287L305 287L302.1 286.9L299 286.9L295.7 286.9L292.3 286.9L289 286.8L286.2 286.8L284.1 286.8L282.8 286.8L282.3 286.8L282.2 286.8Z"/>
</g>
<g fill="#B86FB5" stroke="#B86FB5" stroke-width="0.3" opacity="1">
<path opacity="0.8" d="M282.2 286.8L282.3 286.8L282.8 286.8L284.1 286.6L286.2 286.3L289 285.8L292.3 285.1L295.7 284.3L299 283.3L302.1 282.1L305 280.7L307.8 279.1L310.5 277.1L313.2 274.9L316 272.2L318.9 269.1L322 265.6L325.3 261.7L328.8 257.4L332.5 252.8L336.3 247.9L340.1 243L344 238L347.8 233.1L351.5 228.5L355 224.2L358.2 220.3L361.3 216.8L364.3 213.7L367 211L369.7 208.8L372.4 206.8L375.2 205.2L378.2 203.8L381.3 202.6L384.6 201.6L388 200.8L391.2 200.1L394 199.6L396.1 199.3L397.4 199.2L398 199.1L398 199.1L398 200.2L398 200.2L397.4 200.3L396.1 200.4L394 200.7L391.2 201.2L388 201.9L384.6 202.7L381.3 203.7L378.2 204.9L375.2 206.3L372.4 207.9L369.7 209.9L367 212.1L364.3 214.8L361.3 217.9L358.2 221.4L355 225.3L351.5 229.6L347.8 234.2L344 239.1L340.1 244.1L336.3 249.1L332.5 253.9L328.8 258.5L325.3 262.8L322 266.7L318.9 270.2L316 273.3L313.2 276L310.5 278.3L307.8 280.2L305 281.8L302.1 283.2L299 284.4L295.7 285.4L292.3 286.3L289 286.9L286.2 287.4L284.1 287.7L282.8 287.9L282.3 287.9L282.2 287.9Z"/>
<path opacity="0.8" d="M282.2 287.9L282.3 287.9L282.8 287.9L284.1 287.9L286.2 287.9L289 287.9L292.3 287.9L295.7 287.8L299 287.8L302.1 287.8L305 287.7L307.8 287.6L310.5 287.6L313.2 287.5L316 287.4L318.9 287.3L322 287.1L325.3 287L328.8 286.8L332.5 286.6L336.3 286.5L340.1 286.3L344 286.1L347.8 285.9L351.5 285.7L355 285.6L358.2 285.4L361.3 285.3L364.3 285.2L367 285.1L369.7 285L372.4 284.9L375.2 284.8L378.2 284.8L381.3 284.7L384.6 284.7L388 284.7L391.2 284.6L394 284.6L396.1 284.6L397.4 284.6L398 284.6L398 284.6L398 285.7L398 285.7L397.4 285.7L396.1 285.7L394 285.7L391.2 285.8L388 285.8L384.6 285.8L381.3 285.8L378.2 285.9L375.2 285.9L372.4 286L369.7 286.1L367 286.2L364.3 286.3L361.3 286.4L358.2 286.5L355 286.7L351.5 286.8L347.8 287L344 287.2L340.1 287.4L336.3 287.6L332.5 287.8L328.8 287.9L325.3 288.1L322 288.2L318.9 288.4L316 288.5L313.2 288.6L310.5 288.7L307.8 288.7L305 288.8L302.1 288.9L299 288.9L295.7 288.9L292.3 289L289 289L286.2 289L284.1 289L282.8 289L282.3 289L282.2 289Z"/>
<path opacity="0.8" d="M282.2 289L282.3 289L282.8 289L284.1 289L286.2 289L289 289L292.3 289L295.7 289L299 289L302.1 289L305 289L307.8 289L310.5 289L313.2 289L316 289L318.9 289L322 289L325.3 289L328.8 289L332.5 289L336.3 289L340.1 289L344 289L347.8 289L351.5 289L355 289L358.2 289L361.3 289L364.3 289L367 289L369.7 289L372.4 289L375.2 289L378.2 289L381.3 289L384.6 289L388 289L391.2 289L394 289L396.1 289L397.4 289L398 289L398 289L398 300.1L398 300.1L397.4 300.1L396.1 300.1L394 300.1L391.2 300.1L388 300.1L384.6 300.1L381.3 300.1L378.2 300.1L375.2 300.1L372.4 300.1L369.7 300.1L367 300.1L364.3 300.1L361.3 300.1L358.2 300.1L355 300.1L351.5 300.1L347.8 300.1L344 300.1L340.1 300.1L336.3 300.1L332.5 300.1L328.8 300.1L325.3 300.1L322 300.1L318.9 300.1L316 300.1L313.2 300.1L310.5 300.1L307.8 300.1L305 300.1L302.1 300.1L299 300.1L295.7 300.1L292.3 300.1L289 300.1L286.2 300.1L284.1 300.1L282.8 300.1L282.3 300.1L282.2 300.1Z"/>
</g>
<g fill="#E5766F" stroke="#E5766F" stroke-width="0.3" opacity="1">
<path opacity="0.8" d="M455.8 4.7L455.8 4.7L456.4 4.7L457.7 4.7L459.8 4.7L462.6 4.7L465.8 4.7L469.2 4.7L472.5 4.7L475.6 4.7L478.6 4.7L481.4 4.7L484.1 4.7L486.8 4.7L489.5 4.7L492.5 4.7L495.6 4.7L498.8 4.7L502.3 4.7L506 4.7L509.8 4.7L513.7 4.7L517.5 4.7L521.3 4.7L525 4.7L528.5 4.7L531.8 4.7L534.9 4.7L537.8 4.7L540.6 4.7L543.3 4.7L546 4.7L548.8 4.7L551.7 4.7L554.8 4.7L558.1 4.7L561.5 4.7L564.8 4.7L567.6 4.7L569.7 4.7L571 4.7L571.5 4.7L571.6 4.7L571.6 14.7L571.5 14.7L571 14.7L569.7 14.7L567.6 14.7L564.8 14.7L561.5 14.7L558.1 14.7L554.8 14.7L551.7 14.7L548.8 14.7L546 14.7L543.3 14.7L540.6 14.7L537.8 14.7L534.9 14.7L531.8 14.7L528.5 14.7L525 14.7L521.3 14.7L517.5 14.7L513.7 14.7L509.8 14.7L506 14.7L502.3 14.7L498.8 14.7L495.6 14.7L492.5 14.7L489.5 14.7L486.8 14.7L484.1 14.7L481.4 14.7L478.6 14.7L475.6 14.7L472.5 14.7L469.2 14.7L465.8 14.7L462.6 14.7L459.8 14.7L457.7 14.7L456.4 14.7L455.8 14.7L455.8 14.7Z"/>
<path opacity="0.8" d="M455.8 14.7L455.8 14.7L456.4 14.7L457.7 14.7L459.8 14.7L462.6 14.8L465.8 14.8L469.2 14.8L472.5 14.8L475.6 14.8L478.6 14.9L481.4 14.9L484.1 15L486.8 15L489.5 15.1L492.5 15.2L495.6 15.3L498.8 15.4L502.3 15.5L506 15.6L509.8 15.7L513.7 15.8L517.5 16L521.3 16.1L525 16.2L528.5 16.3L531.8 16.4L534.9 16.5L537.8 16.6L540.6 16.6L543.3 16.7L546 16.8L548.8 16.8L551.7 16.8L554.8 16.9L558.1 16.9L561.5 16.9L564.8 16.9L567.6 16.9L569.7 16.9L571 16.9L571.5 16.9L571.6 16.9L571.6 22.5L571.5 22.5L571 22.5L569.7 22.5L567.6 22.5L564.8 22.5L561.5 22.5L558.1 22.4L554.8 22.4L551.7 22.4L548.8 22.3L546 22.3L543.3 22.3L540.6 22.2L537.8 22.1L534.9 22.1L531.8 22L528.5 21.9L525 21.8L521.3 21.6L517.5 21.5L513.7 21.4L509.8 21.3L506 21.1L502.3 21L498.8 20.9L495.6 20.8L492.5 20.7L489.5 20.6L486.8 20.6L484.1 20.5L481.4 20.5L478.6 20.4L475.6 20.4L472.5 20.4L469.2 20.3L465.8 20.3L462.6 20.3L459.8 20.3L457.7 20.3L456.4 20.3L455.8 20.3L455.8 20.3Z"/>
<path opacity="0.8" d="M455.8 20.3L455.8 20.3L456.4 20.3L457.7 20.4L459.8 20.5L462.6 20.7L465.8 21L469.2 21.4L472.5 21.9L475.6 22.4L478.6 23.1L481.4 23.8L484.1 24.7L486.8 25.7L489.5 26.9L492.5 28.3L495.6 29.9L498.8 31.7L502.3 33.7L506 35.8L509.8 38L513.7 40.3L517.5 42.5L521.3 44.8L525 46.9L528.5 48.8L531.8 50.6L534.9 52.2L537.8 53.6L540.6 54.8L543.3 55.9L546 56.7L548.8 57.5L551.7 58.1L554.8 58.7L558.1 59.1L561.5 59.5L564.8 59.8L567.6 60L569.7 60.2L571 60.2L571.5 60.3L571.6 60.3L571.6 64.7L571.5 64.7L571 64.7L569.7 64.6L567.6 64.5L564.8 64.2L561.5 63.9L558.1 63.6L554.8 63.1L551.7 62.6L548.8 61.9L546 61.2L543.3 60.3L540.6 59.3L537.8 58L534.9 56.6L531.8 55L528.5 53.3L525 51.3L521.3 49.2L517.5 47L513.7 44.7L509.8 42.4L506 40.2L502.3 38.1L498.8 36.2L495.6 34.4L492.5 32.8L489.5 31.4L486.8 30.2L484.1 29.1L481.4 28.3L478.6 27.5L475.6 26.9L472.5 26.3L469.2 25.9L465.8 25.5L462.6 25.2L459.8 25L457.7 24.8L456.4 24.8L455.8 24.7L455.8 24.7Z"/>
<path opacity="0.8" d="M455.8 24.7L455.8 24.7L456.4 24.8L457.7 25.1L459.8 25.6L462.6 26.4L465.8 27.5L469.2 28.9L472.5 30.6L475.6 32.6L478.6 34.9L481.4 37.7L484.1 40.9L486.8 44.7L489.5 49.2L492.5 54.3L495.6 60.1L498.8 66.7L502.3 73.8L506 81.6L509.8 89.7L513.7 98L517.5 106.4L521.3 114.5L525 122.2L528.5 129.4L531.8 135.9L534.9 141.7L537.8 146.9L540.6 151.3L543.3 155.2L546 158.4L548.8 161.1L551.7 163.4L554.8 165.4L558.1 167.1L561.5 168.5L564.8 169.6L567.6 170.4L569.7 170.9L571 171.2L571.5 171.3L571.6 171.3L571.6 172.4L571.5 172.4L571 172.3L569.7 172L567.6 171.5L564.8 170.7L561.5 169.6L558.1 168.2L554.8 166.5L551.7 164.5L548.8 162.2L546 159.5L543.3 156.3L540.6 152.5L537.8 148L534.9 142.9L531.8 137L528.5 130.5L525 123.3L521.3 115.6L517.5 107.5L513.7 99.1L509.8 90.8L506 82.7L502.3 75L498.8 67.8L495.6 61.2L492.5 55.4L489.5 50.3L486.8 45.8L484.1 42L481.4 38.8L478.6 36L475.6 33.7L472.5 31.7L469.2 30L465.8 28.6L462.6 27.5L459.8 26.7L457.7 26.2L456.4 25.9L455.8 25.8L455.8 25.8Z"/>
</g>
<g fill="#A1A924" stroke="#A1A924" stroke-width="0.3" opacity="1">
<path opacity="0.8" d="M455.8 25.8L455.8 25.8L456.4 25.8L457.7 25.8L459.8 25.8L462.6 25.7L465.8 25.6L469.2 25.5L472.5 25.4L475.6 25.2L478.6 25.1L481.4 24.9L484.1 24.6L486.8 24.3L489.5 24L492.5 23.6L495.6 23.1L498.8 22.7L502.3 22.1L506 21.5L509.8 20.9L513.7 20.3L517.5 19.6L521.3 19L525 18.4L528.5 17.9L531.8 17.4L534.9 17L537.8 16.6L540.6 16.2L543.3 16L546 15.7L548.8 15.5L551.7 15.3L554.8 15.2L558.1 15L561.5 14.9L564.8 14.9L567.6 14.8L569.7 14.8L571 14.7L571.5 14.7L571.6 14.7L571.6 15.8L571.5 15.8L571 15.8L569.7 15.9L567.6 15.9L564.8 16L561.5 16L558.1 16.2L554.8 16.3L551.7 16.4L548.8 16.6L546 16.8L543.3 17.1L540.6 17.3L537.8 17.7L534.9 18.1L531.8 18.5L528.5 19L525 19.6L521.3 20.1L517.5 20.8L513.7 21.4L509.8 22L506 22.6L502.3 23.2L498.8 23.8L495.6 24.3L492.5 24.7L489.5 25.1L486.8 25.4L484.1 25.7L481.4 26L478.6 26.2L475.6 26.3L472.5 26.5L469.2 26.6L465.8 26.7L462.6 26.8L459.8 26.9L457.7 26.9L456.4 26.9L455.8 26.9L455.8 26.9Z"/>
<path opacity="0.8" d="M455.8 26.9L455.8 26.9L456.4 26.9L457.7 26.9L459.8 26.9L462.6 26.9L465.8 26.9L469.2 26.8L472.5 26.8L475.6 26.7L478.6 26.6L481.4 26.6L484.1 26.5L486.8 26.3L489.5 26.2L492.5 26L495.6 25.9L498.8 25.7L502.3 25.5L506 25.2L509.8 25L513.7 24.7L517.5 24.5L521.3 24.2L525 24L528.5 23.8L531.8 23.6L534.9 23.4L537.8 23.2L540.6 23.1L543.3 23L546 22.9L548.8 22.8L551.7 22.7L554.8 22.7L558.1 22.6L561.5 22.6L564.8 22.6L567.6 22.5L569.7 22.5L571 22.5L571.5 22.5L571.6 22.5L571.6 51.4L571.5 51.4L571 51.4L569.7 51.4L567.6 51.4L564.8 51.4L561.5 51.5L558.1 51.5L554.8 51.6L551.7 51.6L548.8 51.7L546 51.8L543.3 51.9L540.6 52L537.8 52.1L534.9 52.3L531.8 52.4L528.5 52.6L525 52.9L521.3 53.1L517.5 53.3L513.7 53.6L509.8 53.8L506 54.1L502.3 54.3L498.8 54.5L495.6 54.7L492.5 54.9L489.5 55.1L486.8 55.2L484.1 55.3L481.4 55.4L478.6 55.5L475.6 55.6L472.5 55.6L469.2 55.7L465.8 55.7L462.6 55.8L459.8 55.8L457.7 55.8L456.4 55.8L455.8 55.8L455.8 55.8Z"/>
<path opacity="0.8" d="M455.8 55.8L455.8 55.8L456.4 55.8L457.7 55.8L459.8 55.9L462.6 55.9L465.8 56L469.2 56.1L472.5 56.2L475.6 56.3L478.6 56.4L481.4 56.6L484.1 56.8L486.8 57L489.5 57.3L492.5 57.6L495.6 58L498.8 58.4L502.3 58.8L506 59.3L509.8 59.8L513.7 60.3L517.5 60.8L521.3 61.3L525 61.7L528.5 62.2L531.8 62.6L534.9 62.9L537.8 63.2L540.6 63.5L543.3 63.7L546 63.9L548.8 64.1L551.7 64.2L554.8 64.3L558.1 64.4L561.5 64.5L564.8 64.6L567.6 64.6L569.7 64.7L571 64.7L571.5 64.7L571.6 64.7L571.6 92.5L571.5 92.5L571 92.5L569.7 92.4L567.6 92.4L564.8 92.4L561.5 92.3L558.1 92.2L554.8 92.1L551.7 92L548.8 91.8L546 91.7L543.3 91.5L540.6 91.3L537.8 91L534.9 90.7L531.8 90.3L528.5 89.9L525 89.5L521.3 89L517.5 88.5L513.7 88L509.8 87.5L506 87L502.3 86.6L498.8 86.1L495.6 85.7L492.5 85.4L489.5 85.1L486.8 84.8L484.1 84.6L481.4 84.4L478.6 84.2L475.6 84.1L472.5 83.9L469.2 83.8L465.8 83.8L462.6 83.7L459.8 83.6L457.7 83.6L456.4 83.6L455.8 83.6L455.8 83.6Z"/>
<path opacity="0.8" d="M455.8 83.6L455.8 83.6L456.4 83.7L457.7 83.8L459.8 84.1L462.6 84.6L465.8 85.3L469.2 86.1L472.5 87.2L475.6 88.4L478.6 89.8L481.4 91.4L484.1 93.4L486.8 95.7L489.5 98.4L492.5 101.5L495.6 105L498.8 109L502.3 113.4L506 118L509.8 123L513.7 128L517.5 133.1L521.3 138L525 142.7L528.5 147L531.8 151L534.9 154.5L537.8 157.6L540.6 160.3L543.3 162.6L546 164.6L548.8 166.2L551.7 167.7L554.8 168.9L558.1 169.9L561.5 170.7L564.8 171.4L567.6 171.9L569.7 172.2L571 172.4L571.5 172.4L571.6 172.4L571.6 179.1L571.5 179.1L571 179L569.7 178.9L567.6 178.6L564.8 178.1L561.5 177.4L558.1 176.5L554.8 175.5L551.7 174.3L548.8 172.9L546 171.2L543.3 169.3L540.6 167L537.8 164.3L534.9 161.2L531.8 157.6L528.5 153.7L525 149.3L521.3 144.6L517.5 139.7L513.7 134.7L509.8 129.6L506 124.7L502.3 120L498.8 115.7L495.6 111.7L492.5 108.2L489.5 105.1L486.8 102.4L484.1 100L481.4 98.1L478.6 96.4L475.6 95L472.5 93.8L469.2 92.8L465.8 91.9L462.6 91.3L459.8 90.8L457.7 90.5L456.4 90.3L455.8 90.3L455.8 90.2Z"/>
</g>
<g fill="#00A46F" stroke="#00A46F" stroke-width="0.3" opacity="1">
<path opacity="0.8" d="M455.8 90.2L455.8 90.2L456.4 90.2L457.7 90.1L459.8 89.8L462.6 89.4L465.8 88.8L469.2 88.1L472.5 87.3L475.6 86.2L478.6 85.1L481.4 83.7L484.1 82L486.8 80.1L489.5 77.8L492.5 75.2L495.6 72.3L498.8 69L502.3 65.3L506 61.4L509.8 57.3L513.7 53L517.5 48.8L521.3 44.7L525 40.8L528.5 37.1L531.8 33.8L534.9 30.8L537.8 28.2L540.6 26L543.3 24L546 22.4L548.8 21L551.7 19.8L554.8 18.8L558.1 18L561.5 17.3L564.8 16.7L567.6 16.3L569.7 16L571 15.9L571.5 15.8L571.6 15.8L571.6 16.9L571.5 17L571 17L569.7 17.1L567.6 17.4L564.8 17.8L561.5 18.4L558.1 19.1L554.8 19.9L551.7 21L548.8 22.1L546 23.5L543.3 25.2L540.6 27.1L537.8 29.3L534.9 32L531.8 34.9L528.5 38.2L525 41.9L521.3 45.8L517.5 49.9L513.7 54.2L509.8 58.4L506 62.5L502.3 66.4L498.8 70.1L495.6 73.4L492.5 76.3L489.5 79L486.8 81.2L484.1 83.2L481.4 84.8L478.6 86.2L475.6 87.4L472.5 88.4L469.2 89.2L465.8 89.9L462.6 90.5L459.8 90.9L457.7 91.2L456.4 91.3L455.8 91.4L455.8 91.4Z"/>
<path opacity="0.8" d="M455.8 91.4L455.8 91.4L456.4 91.3L457.7 91.3L459.8 91.1L462.6 90.9L465.8 90.6L469.2 90.2L472.5 89.7L475.6 89.2L478.6 88.6L481.4 87.8L484.1 86.9L486.8 85.9L489.5 84.7L492.5 83.3L495.6 81.7L498.8 79.9L502.3 78L506 75.9L509.8 73.6L513.7 71.4L517.5 69.1L521.3 66.9L525 64.8L528.5 62.8L531.8 61L534.9 59.4L537.8 58L540.6 56.8L543.3 55.8L546 54.9L548.8 54.2L551.7 53.5L554.8 53L558.1 52.5L561.5 52.1L564.8 51.8L567.6 51.6L569.7 51.5L571 51.4L571.5 51.4L571.6 51.4L571.6 59.1L571.5 59.2L571 59.2L569.7 59.3L567.6 59.4L564.8 59.6L561.5 59.9L558.1 60.3L554.8 60.8L551.7 61.3L548.8 61.9L546 62.7L543.3 63.6L540.6 64.6L537.8 65.8L534.9 67.2L531.8 68.8L528.5 70.6L525 72.5L521.3 74.7L517.5 76.9L513.7 79.1L509.8 81.4L506 83.6L502.3 85.7L498.8 87.7L495.6 89.5L492.5 91.1L489.5 92.5L486.8 93.7L484.1 94.7L481.4 95.6L478.6 96.3L475.6 97L472.5 97.5L469.2 98L465.8 98.4L462.6 98.7L459.8 98.9L457.7 99L456.4 99.1L455.8 99.1L455.8 99.1Z"/>
<path opacity="0.8" d="M455.8 99.1L455.8 99.1L456.4 99.1L457.7 99.1L459.8 99.1L462.6 99.1L465.8 99L469.2 98.9L472.5 98.9L475.6 98.8L478.6 98.7L481.4 98.5L484.1 98.4L486.8 98.2L489.5 98L492.5 97.8L495.6 97.5L498.8 97.2L502.3 96.9L506 96.5L509.8 96.2L513.7 95.8L517.5 95.4L521.3 95.1L525 94.7L528.5 94.4L531.8 94.1L534.9 93.8L537.8 93.6L540.6 93.4L543.3 93.2L546 93.1L548.8 92.9L551.7 92.8L554.8 92.7L558.1 92.7L561.5 92.6L564.8 92.5L567.6 92.5L569.7 92.5L571 92.5L571.5 92.5L571.6 92.5L571.6 162.4L571.5 162.4L571 162.4L569.7 162.5L567.6 162.5L564.8 162.5L561.5 162.6L558.1 162.6L554.8 162.7L551.7 162.8L548.8 162.9L546 163L543.3 163.1L540.6 163.3L537.8 163.4L534.9 163.6L531.8 163.9L528.5 164.2L525 164.4L521.3 164.8L517.5 165.1L513.7 165.4L509.8 165.8L506 166.1L502.3 166.4L498.8 166.7L495.6 167L492.5 167.2L489.5 167.4L486.8 167.6L484.1 167.8L481.4 167.9L478.6 168L475.6 168.1L472.5 168.2L469.2 168.3L465.8 168.3L462.6 168.4L459.8 168.4L457.7 168.4L456.4 168.4L455.8 168.4L455.8 168.4Z"/>
<path opacity="0.8" d="M455.8 168.4L455.8 168.4L456.4 168.4L457.7 168.5L459.8 168.5L462.6 168.6L465.8 168.6L469.2 168.7L472.5 168.9L475.6 169L478.6 169.2L481.4 169.4L484.1 169.6L486.8 169.9L489.5 170.2L492.5 170.6L495.6 171L498.8 171.5L502.3 172L506 172.6L509.8 173.2L513.7 173.8L517.5 174.4L521.3 175L525 175.5L528.5 176L531.8 176.5L534.9 176.9L537.8 177.3L540.6 177.6L543.3 177.9L546 178.2L548.8 178.4L551.7 178.5L554.8 178.7L558.1 178.8L561.5 178.9L564.8 179L567.6 179L569.7 179.1L571 179.1L571.5 179.1L571.6 179.1L571.6 210.2L571.5 210.2L571 210.2L569.7 210.2L567.6 210.1L564.8 210.1L561.5 210L558.1 209.9L554.8 209.8L551.7 209.6L548.8 209.4L546 209.2L543.3 209L540.6 208.7L537.8 208.4L534.9 208L531.8 207.6L528.5 207.1L525 206.6L521.3 206.1L517.5 205.5L513.7 204.9L509.8 204.3L506 203.7L502.3 203.1L498.8 202.6L495.6 202.1L492.5 201.7L489.5 201.3L486.8 201L484.1 200.7L481.4 200.5L478.6 200.3L475.6 200.1L472.5 200L469.2 199.8L465.8 199.7L462.6 199.7L459.8 199.6L457.7 199.6L456.4 199.5L455.8 199.5L455.8 199.5Z"/>
<path opacity="0.8" d="M455.8 199.5L455.8 199.5L456.4 199.6L457.7 199.8L459.8 200.1L462.6 200.5L465.8 201.2L469.2 202L472.5 203L475.6 204.2L478.6 205.6L481.4 207.2L484.1 209.2L486.8 211.4L489.5 214.1L492.5 217.1L495.6 220.6L498.8 224.5L502.3 228.8L506 233.4L509.8 238.2L513.7 243.2L517.5 248.1L521.3 253L525 257.6L528.5 261.8L531.8 265.7L534.9 269.2L537.8 272.3L540.6 274.9L543.3 277.2L546 279.1L548.8 280.7L551.7 282.1L554.8 283.3L558.1 284.3L561.5 285.1L564.8 285.8L567.6 286.3L569.7 286.6L571 286.8L571.5 286.8L571.6 286.8L571.6 287.5L571.5 287.5L571 287.4L569.7 287.3L567.6 287L564.8 286.5L561.5 285.8L558.1 285L554.8 284L551.7 282.8L548.8 281.4L546 279.8L543.3 277.9L540.6 275.6L537.8 272.9L534.9 269.9L531.8 266.4L528.5 262.5L525 258.2L521.3 253.6L517.5 248.8L513.7 243.8L509.8 238.9L506 234L502.3 229.4L498.8 225.2L495.6 221.3L492.5 217.8L489.5 214.7L486.8 212.1L484.1 209.8L481.4 207.9L478.6 206.3L475.6 204.9L472.5 203.7L469.2 202.7L465.8 201.9L462.6 201.2L459.8 200.7L457.7 200.4L456.4 200.3L455.8 200.2L455.8 200.2Z"/>
</g>
<g fill="#18A8E2" stroke="#18A8E2" stroke-width="0.3" opacity="1">
<path opacity="0.8" d="M455.8 200.2L455.8 200.2L456.4 200.1L457.7 199.8L459.8 199.3L462.6 198.6L465.8 197.5L469.2 196.1L472.5 194.5L475.6 192.6L478.6 190.4L481.4 187.7L484.1 184.6L486.8 181L489.5 176.7L492.5 171.7L495.6 166.1L498.8 159.8L502.3 152.9L506 145.5L509.8 137.7L513.7 129.7L517.5 121.7L521.3 113.8L525 106.4L528.5 99.5L531.8 93.2L534.9 87.6L537.8 82.7L540.6 78.4L543.3 74.7L546 71.6L548.8 69L551.7 66.7L554.8 64.8L558.1 63.2L561.5 61.9L564.8 60.8L567.6 60L569.7 59.5L571 59.3L571.5 59.2L571.6 59.1L571.6 59.9L571.5 59.9L571 60L569.7 60.2L567.6 60.7L564.8 61.5L561.5 62.6L558.1 63.9L554.8 65.5L551.7 67.5L548.8 69.7L546 72.3L543.3 75.4L540.6 79.1L537.8 83.4L534.9 88.3L531.8 93.9L528.5 100.2L525 107.1L521.3 114.6L517.5 122.4L513.7 130.4L509.8 138.4L506 146.2L502.3 153.7L498.8 160.6L495.6 166.8L492.5 172.5L489.5 177.4L486.8 181.7L484.1 185.4L481.4 188.5L478.6 191.1L475.6 193.3L472.5 195.2L469.2 196.9L465.8 198.2L462.6 199.3L459.8 200.1L457.7 200.6L456.4 200.8L455.8 200.9L455.8 200.9Z"/>
<path opacity="0.8" d="M455.8 200.9L455.8 200.9L456.4 200.9L457.7 200.8L459.8 200.7L462.6 200.5L465.8 200.2L469.2 199.8L472.5 199.4L475.6 198.8L478.6 198.2L481.4 197.5L484.1 196.7L486.8 195.7L489.5 194.5L492.5 193.2L495.6 191.6L498.8 189.9L502.3 188L506 186L509.8 183.9L513.7 181.7L517.5 179.5L521.3 177.4L525 175.3L528.5 173.4L531.8 171.7L534.9 170.2L537.8 168.8L540.6 167.7L543.3 166.7L546 165.8L548.8 165.1L551.7 164.5L554.8 164L558.1 163.5L561.5 163.2L564.8 162.9L567.6 162.7L569.7 162.5L571 162.5L571.5 162.4L571.6 162.4L571.6 171.7L571.5 171.7L571 171.7L569.7 171.8L567.6 171.9L564.8 172.2L561.5 172.4L558.1 172.8L554.8 173.3L551.7 173.8L548.8 174.4L546 175.1L543.3 176L540.6 177L537.8 178.1L534.9 179.5L531.8 181L528.5 182.7L525 184.6L521.3 186.6L517.5 188.8L513.7 191L509.8 193.1L506 195.3L502.3 197.3L498.8 199.2L495.6 200.9L492.5 202.4L489.5 203.8L486.8 204.9L484.1 205.9L481.4 206.8L478.6 207.5L475.6 208.1L472.5 208.6L469.2 209.1L465.8 209.5L462.6 209.7L459.8 210L457.7 210.1L456.4 210.2L455.8 210.2L455.8 210.2Z"/>
<path opacity="0.8" d="M455.8 210.2L455.8 210.2L456.4 210.2L457.7 210.2L459.8 210.2L462.6 210.2L465.8 210.2L469.2 210.2L472.5 210.2L475.6 210.2L478.6 210.2L481.4 210.2L484.1 210.2L486.8 210.2L489.5 210.2L492.5 210.2L495.6 210.2L498.8 210.2L502.3 210.2L506 210.2L509.8 210.2L513.7 210.2L517.5 210.2L521.3 210.2L525 210.2L528.5 210.2L531.8 210.2L534.9 210.2L537.8 210.2L540.6 210.2L543.3 210.2L546 210.2L548.8 210.2L551.7 210.2L554.8 210.2L558.1 210.2L561.5 210.2L564.8 210.2L567.6 210.2L569.7 210.2L571 210.2L571.5 210.2L571.6 210.2L571.6 282.4L571.5 282.4L571 282.4L569.7 282.4L567.6 282.4L564.8 282.4L561.5 282.4L558.1 282.4L554.8 282.4L551.7 282.4L548.8 282.5L546 282.5L543.3 282.5L540.6 282.5L537.8 282.6L534.9 282.6L531.8 282.6L528.5 282.7L525 282.8L521.3 282.8L517.5 282.9L513.7 282.9L509.8 283L506 283.1L502.3 283.1L498.8 283.2L495.6 283.2L492.5 283.3L489.5 283.3L486.8 283.3L484.1 283.4L481.4 283.4L478.6 283.4L475.6 283.4L472.5 283.4L469.2 283.5L465.8 283.5L462.6 283.5L459.8 283.5L457.7 283.5L456.4 283.5L455.8 283.5L455.8 283.5Z"/>
<path opacity="0.8" d="M455.8 283.5L455.8 283.5L456.4 283.5L457.7 283.5L459.8 283.5L462.6 283.5L465.8 283.6L469.2 283.6L472.5 283.7L475.6 283.7L478.6 283.8L481.4 283.8L484.1 283.9L486.8 284L489.5 284.2L492.5 284.3L495.6 284.5L498.8 284.6L502.3 284.8L506 285L509.8 285.3L513.7 285.5L517.5 285.7L521.3 285.9L525 286.1L528.5 286.3L531.8 286.5L534.9 286.7L537.8 286.8L540.6 286.9L543.3 287L546 287.1L548.8 287.2L551.7 287.3L554.8 287.3L558.1 287.4L561.5 287.4L564.8 287.4L567.6 287.5L569.7 287.5L571 287.5L571.5 287.5L571.6 287.5L571.6 289.7L571.5 289.7L571 289.7L569.7 289.7L567.6 289.7L564.8 289.7L561.5 289.6L558.1 289.6L554.8 289.5L551.7 289.5L548.8 289.4L546 289.4L543.3 289.3L540.6 289.2L537.8 289L534.9 288.9L531.8 288.7L528.5 288.6L525 288.4L521.3 288.2L517.5 287.9L513.7 287.7L509.8 287.5L506 287.3L502.3 287.1L498.8 286.9L495.6 286.7L492.5 286.5L489.5 286.4L486.8 286.3L484.1 286.2L481.4 286.1L478.6 286L475.6 285.9L472.5 285.9L469.2 285.8L465.8 285.8L462.6 285.8L459.8 285.7L457.7 285.7L456.4 285.7L455.8 285.7L455.8 285.7Z"/>
</g>
<g fill="#B86FB5" stroke="#B86FB5" stroke-width="0.3" opacity="1">
<path opacity="0.8" d="M455.8 285.7L455.8 285.7L456.4 285.5L457.7 285.1L459.8 284.3L462.6 283.1L465.8 281.4L469.2 279.2L472.5 276.6L475.6 273.6L478.6 270L481.4 265.8L484.1 260.8L486.8 254.9L489.5 248.1L492.5 240.2L495.6 231.2L498.8 221.1L502.3 210L506 198.1L509.8 185.6L513.7 172.8L517.5 160L521.3 147.4L525 135.5L528.5 124.5L531.8 114.4L534.9 105.4L537.8 97.5L540.6 90.6L543.3 84.8L546 79.8L548.8 75.6L551.7 72L554.8 69L558.1 66.4L561.5 64.2L564.8 62.5L567.6 61.3L569.7 60.5L571 60L571.5 59.9L571.6 59.9L571.6 60.6L571.5 60.6L571 60.8L569.7 61.2L567.6 62L564.8 63.2L561.5 64.9L558.1 67.1L554.8 69.7L551.7 72.7L548.8 76.3L546 80.5L543.3 85.5L540.6 91.4L537.8 98.2L534.9 106.2L531.8 115.1L528.5 125.2L525 136.3L521.3 148.2L517.5 160.7L513.7 173.5L509.8 186.3L506 198.9L502.3 210.8L498.8 221.8L495.6 231.9L492.5 240.9L489.5 248.8L486.8 255.7L484.1 261.5L481.4 266.5L478.6 270.7L475.6 274.3L472.5 277.3L469.2 279.9L465.8 282.1L462.6 283.8L459.8 285.1L457.7 285.8L456.4 286.3L455.8 286.4L455.8 286.4Z"/>
<path opacity="0.8" d="M455.8 286.4L455.8 286.4L456.4 286.4L457.7 286.4L459.8 286.4L462.6 286.4L465.8 286.4L469.2 286.3L472.5 286.3L475.6 286.2L478.6 286.2L481.4 286.1L484.1 286L486.8 285.9L489.5 285.8L492.5 285.6L495.6 285.5L498.8 285.3L502.3 285.1L506 284.9L509.8 284.6L513.7 284.4L517.5 284.2L521.3 284L525 283.7L528.5 283.5L531.8 283.4L534.9 283.2L537.8 283.1L540.6 282.9L543.3 282.8L546 282.7L548.8 282.7L551.7 282.6L554.8 282.5L558.1 282.5L561.5 282.5L564.8 282.4L567.6 282.4L569.7 282.4L571 282.4L571.5 282.4L571.6 282.4L571.6 286.8L571.5 286.8L571 286.8L569.7 286.8L567.6 286.8L564.8 286.8L561.5 286.9L558.1 286.9L554.8 286.9L551.7 286.9L548.8 287L546 287L543.3 287.1L540.6 287.1L537.8 287.2L534.9 287.3L531.8 287.4L528.5 287.5L525 287.6L521.3 287.7L517.5 287.8L513.7 287.9L509.8 288.1L506 288.2L502.3 288.3L498.8 288.4L495.6 288.5L492.5 288.6L489.5 288.7L486.8 288.7L484.1 288.8L481.4 288.8L478.6 288.9L475.6 288.9L472.5 289L469.2 289L465.8 289L462.6 289L459.8 289L457.7 289L456.4 289L455.8 289L455.8 289Z"/>
<path opacity="0.8" d="M455.8 289L455.8 289L456.4 289L457.7 289L459.8 289L462.6 289.1L465.8 289.1L469.2 289.1L472.5 289.1L475.6 289.1L478.6 289.1L481.4 289.1L484.1 289.1L486.8 289.1L489.5 289.2L492.5 289.2L495.6 289.2L498.8 289.2L502.3 289.3L506 289.3L509.8 289.3L513.7 289.4L517.5 289.4L521.3 289.5L525 289.5L528.5 289.5L531.8 289.5L534.9 289.6L537.8 289.6L540.6 289.6L543.3 289.6L546 289.7L548.8 289.7L551.7 289.7L554.8 289.7L558.1 289.7L561.5 289.7L564.8 289.7L567.6 289.7L569.7 289.7L571 289.7L571.5 289.7L571.6 289.7L571.6 300.1L571.5 300.1L571 300.1L569.7 300.1L567.6 300.1L564.8 300.1L561.5 300.1L558.1 300.1L554.8 300.1L551.7 300.1L548.8 300.1L546 300.1L543.3 300.1L540.6 300.1L537.8 300.1L534.9 300.1L531.8 300.1L528.5 300.1L525 300.1L521.3 300.1L517.5 300.1L513.7 300.1L509.8 300.1L506 300.1L502.3 300.1L498.8 300.1L495.6 300.1L492.5 300.1L489.5 300.1L486.8 300.1L484.1 300.1L481.4 300.1L478.6 300.1L475.6 300.1L472.5 300.1L469.2 300.1L465.8 300.1L462.6 300.1L459.8 300.1L457.7 300.1L456.4 300.1L455.8 300.1L455.8 300.1Z"/>
</g>
<g fill="#fff" stroke="#303030" stroke-width="1.15">
<rect x="50.9" y="0.29" width="57.7" height="153.26"/>
<rect x="50.9" y="153.55" width="57.7" height="72.19"/>
<rect x="50.9" y="225.74" width="57.7" height="44.42"/>
<rect x="50.9" y="270.16" width="57.7" height="22.21"/>
<rect x="50.9" y="292.38" width="57.7" height="7.77"/>
<rect x="224.5" y="3.62" width="57.7" height="28.88"/>
<rect x="224.5" y="32.50" width="57.7" height="75.52"/>
<rect x="224.5" y="108.02" width="57.7" height="107.73"/>
<rect x="224.5" y="215.74" width="57.7" height="71.08"/>
<rect x="224.5" y="286.82" width="57.7" height="13.33"/>
<rect x="398" y="4.73" width="57.7" height="21.10"/>
<rect x="398" y="25.83" width="57.7" height="64.41"/>
<rect x="398" y="90.25" width="57.7" height="109.95"/>
<rect x="398" y="200.20" width="57.7" height="85.52"/>
<rect x="398" y="285.71" width="57.7" height="14.44"/>
<rect x="571.6" y="4.73" width="57.7" height="12.22"/>
<rect x="571.6" y="16.95" width="57.7" height="43.31"/>
<rect x="571.6" y="60.26" width="57.7" height="111.06"/>
<rect x="571.6" y="171.32" width="57.7" height="115.50"/>
<rect x="571.6" y="286.82" width="57.7" height="13.33"/>
</g>
<g font-family="Liberation Sans, Arial, sans-serif" font-size="10.3" fill="#000" text-anchor="middle">
<text x="79.8" y="80.5">Always</text>
<text x="79.8" y="193.2">Often</text>
<text x="79.8" y="251.6">Sometimes</text>
<text x="79.8" y="284.9">Rarely</text>
<text x="79.8" y="299.9">Never</text>
<text x="253.3" y="21.7">Always</text>
<text x="253.3" y="73.9">Often</text>
<text x="253.3" y="165.5">Sometimes</text>
<text x="253.3" y="254.9">Rarely</text>
<text x="253.3" y="297.1">Never</text>
<text x="426.9" y="18.9">Always</text>
<text x="426.9" y="61.6">Often</text>
<text x="426.9" y="148.8">Sometimes</text>
<text x="426.9" y="246.6">Rarely</text>
<text x="426.9" y="296.5">Never</text>
<text x="600.5" y="14.4">Always</text>
<text x="600.5" y="42.2">Often</text>
<text x="600.5" y="119.4">Sometimes</text>
<text x="600.5" y="232.7">Rarely</text>
<text x="600.5" y="297.1">Never</text>
</g>
<g font-family="Liberation Sans, Arial, sans-serif" font-size="14" fill="#6e6e6e" text-anchor="middle">
<text x="79.8" y="316">Q1.1 Important to monitor</text>
<text x="252.9" y="316">Q1.2 Cause alerts</text>
<text x="426.9" y="316">Q1.3 Occupy time</text>
<text x="516" y="316" text-anchor="start" textLength="167.8" lengthAdjust="spacingAndGlyphs">Q1.4 Lead to investigations</text>
</g>
</svg>
</body></html>
